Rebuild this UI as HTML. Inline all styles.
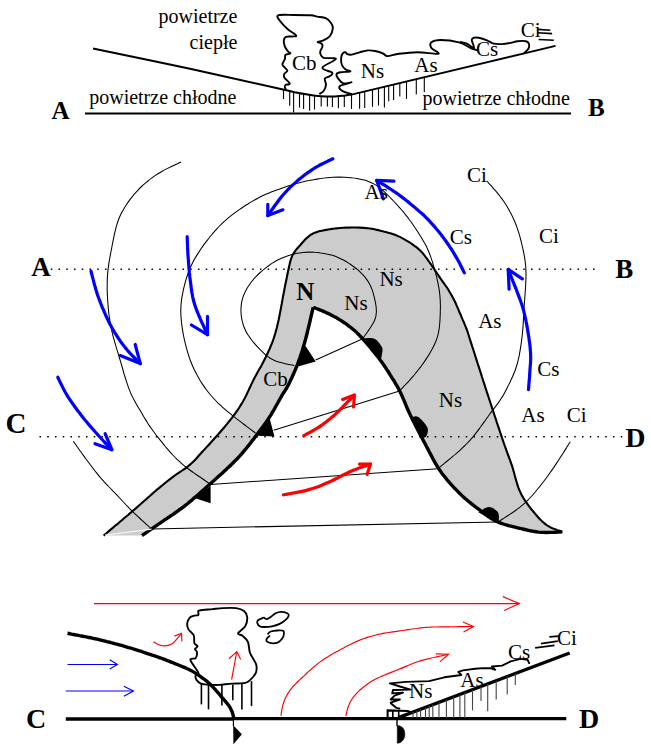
<!DOCTYPE html>
<html><head><meta charset="utf-8"><style>
html,body{margin:0;padding:0;background:#fff;}
svg{display:block;}
text{font-family:"Liberation Serif",serif;fill:#000;}
</style></head><body>
<svg width="651" height="746" viewBox="0 0 651 746">
<line x1="85.0" y1="113.6" x2="571.0" y2="113.6" stroke="#000" stroke-width="2" />
<path d="M93.0,48.4 C109.2,51.8 158.2,61.9 190.0,68.8 C221.8,75.7 266.8,85.9 284.1,89.8 C301.4,93.7 289.9,91.5 294.0,92.3 C298.1,93.1 304.2,94.0 308.7,94.7 C313.2,95.4 316.9,95.9 321.0,96.2 C325.1,96.5 329.2,96.7 333.3,96.6 C337.4,96.5 342.6,95.7 345.6,95.4 C348.6,95.1 350.5,94.7 351.5,94.6 L555.5,45.9" stroke="#000" stroke-width="2" fill="none" />
<line x1="283.5" y1="89.7" x2="283.5" y2="99.0" stroke="#000" stroke-width="1.1" />
<line x1="289.7" y1="91.2" x2="289.7" y2="105.8" stroke="#000" stroke-width="1.1" />
<line x1="293.6" y1="92.2" x2="293.6" y2="112.6" stroke="#000" stroke-width="1.1" />
<line x1="299.5" y1="93.2" x2="299.5" y2="107.6" stroke="#000" stroke-width="1.1" />
<line x1="303.6" y1="93.9" x2="303.6" y2="108.9" stroke="#000" stroke-width="1.1" />
<line x1="309.6" y1="94.8" x2="309.6" y2="110.7" stroke="#000" stroke-width="1.1" />
<line x1="314.5" y1="95.4" x2="314.5" y2="109.5" stroke="#000" stroke-width="1.1" />
<line x1="321.2" y1="96.2" x2="321.2" y2="106.4" stroke="#000" stroke-width="1.1" />
<line x1="327.4" y1="96.4" x2="327.4" y2="106.4" stroke="#000" stroke-width="1.1" />
<line x1="332.4" y1="96.6" x2="332.4" y2="107.0" stroke="#000" stroke-width="1.1" />
<line x1="338.4" y1="96.1" x2="338.4" y2="108.3" stroke="#000" stroke-width="1.1" />
<line x1="344.3" y1="95.5" x2="344.3" y2="107.0" stroke="#000" stroke-width="1.1" />
<line x1="351.5" y1="94.6" x2="351.5" y2="108.9" stroke="#000" stroke-width="1.1" />
<line x1="359.6" y1="92.7" x2="359.6" y2="108.7" stroke="#000" stroke-width="1.1" />
<line x1="364.7" y1="91.4" x2="364.7" y2="108.1" stroke="#000" stroke-width="1.1" />
<line x1="372.5" y1="89.6" x2="372.5" y2="106.9" stroke="#000" stroke-width="1.1" />
<line x1="378.5" y1="88.1" x2="378.5" y2="105.6" stroke="#000" stroke-width="1.1" />
<line x1="384.4" y1="86.7" x2="384.4" y2="107.5" stroke="#000" stroke-width="1.1" />
<line x1="388.7" y1="85.7" x2="388.7" y2="101.3" stroke="#000" stroke-width="1.1" />
<line x1="393.6" y1="84.5" x2="393.6" y2="100.1" stroke="#000" stroke-width="1.1" />
<line x1="399.8" y1="83.0" x2="399.8" y2="96.4" stroke="#000" stroke-width="1.1" />
<line x1="406.5" y1="81.4" x2="406.5" y2="98.9" stroke="#000" stroke-width="1.1" />
<line x1="416.3" y1="79.1" x2="416.3" y2="94.6" stroke="#000" stroke-width="1.1" />
<line x1="424.3" y1="77.2" x2="424.3" y2="92.1" stroke="#000" stroke-width="1.1" />
<text x="158.5" y="23.3" font-size="20" text-anchor="start">powietrze</text>
<text x="189.6" y="49.0" font-size="20" text-anchor="start">ciepłe</text>
<text x="89.2" y="103.8" font-size="20" text-anchor="start">powietrze chłodne</text>
<text x="422.6" y="105.19999999999999" font-size="20" text-anchor="start">powietrze chłodne</text>
<text x="51.5" y="118.8" font-size="25" font-weight="bold" text-anchor="start">A</text>
<text x="588.1" y="115.8" font-size="25" font-weight="bold" text-anchor="start">B</text>
<text x="291.9" y="70.3" font-size="21" text-anchor="start">Cb</text>
<text x="360.8" y="78.3" font-size="21" text-anchor="start">Ns</text>
<text x="414.3" y="71.8" font-size="21" text-anchor="start">As</text>
<text x="475.9" y="55.7" font-size="21" text-anchor="start">Cs</text>
<text x="520.7" y="36.6" font-size="21" text-anchor="start">Ci</text>
<path d="M286.1,89.8 C285.9,89.4 285.0,88.1 284.9,87.3 C284.8,86.5 284.7,85.5 285.5,84.9 C286.3,84.3 290.0,84.8 289.8,83.6 C289.6,82.4 285.2,79.1 284.3,77.5 C283.4,75.9 283.8,74.9 284.3,73.8 C284.8,72.7 287.5,71.9 287.4,70.7 C287.3,69.5 284.5,67.5 283.7,66.4 C282.9,65.3 282.2,65.2 282.4,64.0 C282.6,62.8 284.4,60.5 284.9,59.0 C285.4,57.5 284.6,55.7 285.5,54.8 C286.4,53.9 290.0,54.0 290.4,53.5 C290.8,53.0 289.0,52.6 288.1,51.5 C287.2,50.4 285.6,48.6 284.9,46.7 C284.2,44.8 283.6,41.9 283.8,40.3 C284.0,38.6 284.6,37.4 286.0,36.8 C287.4,36.2 290.7,36.7 292.4,36.5 C294.1,36.3 296.9,36.6 296.2,35.4 C295.5,34.2 290.5,31.6 288.1,29.5 C285.7,27.4 283.4,25.3 281.7,23.0 C280.0,20.7 275.9,16.8 277.9,15.5 C279.9,14.2 288.0,15.0 293.5,15.0 C299.0,15.0 306.8,15.0 310.7,15.3 C314.6,15.6 314.7,16.1 317.2,16.6 C319.7,17.1 323.5,17.1 325.8,18.2 C328.1,19.3 329.9,21.3 331.1,23.0 C332.3,24.7 333.0,26.2 332.8,28.4 C332.6,30.6 331.5,34.0 330.0,36.0 C328.5,38.0 325.7,39.3 323.6,40.3 C321.6,41.3 318.1,41.4 317.7,41.9 C317.3,42.4 320.7,42.7 321.5,43.5 C322.3,44.3 322.7,45.5 322.5,46.7 C322.3,48.0 320.7,49.8 320.4,51.0 C320.1,52.2 320.0,53.0 320.5,54.1 C321.0,55.2 321.0,57.0 323.6,57.8 C326.2,58.6 336.1,57.4 335.9,59.0 C335.7,60.6 323.0,65.4 322.4,67.7 C321.8,70.0 331.0,71.2 332.2,72.6 C333.4,74.0 330.9,75.3 329.7,76.3 C328.5,77.3 325.4,77.3 324.8,78.7 C324.2,80.1 326.2,82.9 326.0,84.9 C325.8,87.0 324.7,89.5 323.6,91.0 C322.5,92.5 320.0,93.6 319.3,94.1" stroke="#000" stroke-width="1.9" fill="none" stroke-linejoin="round"/>
<path d="M351.9,94.2 C350.4,93.7 344.8,92.3 342.7,91.1 C340.6,89.9 339.2,88.2 339.2,87.2 C339.2,86.2 340.6,85.7 342.7,84.9 C344.8,84.1 351.4,82.5 351.5,82.3 C351.6,82.0 345.6,84.0 343.4,83.4 C341.2,82.8 339.5,80.3 338.4,78.8 C337.2,77.3 336.2,75.3 336.5,74.2 C336.8,73.1 338.1,72.8 340.4,72.3 C342.7,71.8 349.4,72.0 350.3,71.5 C351.2,71.0 347.1,70.7 345.7,69.6 C344.3,68.5 342.7,66.9 341.9,65.0 C341.1,63.1 341.0,60.0 341.1,58.1 C341.2,56.2 342.0,54.4 342.7,53.4 C343.4,52.4 344.6,52.2 345.4,52.3 C346.2,52.4 346.2,53.8 347.3,54.2 C348.4,54.6 349.8,54.9 351.9,54.6 C353.9,54.3 356.9,53.0 359.6,52.3 C362.3,51.6 365.2,50.6 368.0,50.4 C370.8,50.2 373.6,50.7 376.1,51.2 C378.6,51.7 381.1,52.7 383.0,53.5 C384.9,54.3 384.9,56.1 387.6,56.1 C390.3,56.1 394.1,54.4 399.1,53.8 C404.1,53.1 411.1,52.2 417.6,52.2 C424.1,52.2 436.0,54.5 438.3,53.8 C440.6,53.1 432.5,49.9 431.4,48.0 C430.2,46.1 429.9,43.6 431.4,42.3 C432.9,41.0 436.0,40.0 440.6,40.0 C445.2,40.0 454.0,41.0 459.0,42.3 C464.0,43.6 467.5,46.7 470.6,48.0 C473.7,49.3 476.4,49.9 477.5,50.3" stroke="#000" stroke-width="1.9" fill="none" stroke-linejoin="round"/>
<path d="M460.0,42.0 C461.1,42.3 464.5,42.7 466.8,43.7 C469.1,44.7 473.2,48.6 474.0,48.0 C474.8,47.4 471.9,42.0 471.8,40.3 C471.7,38.6 472.4,38.2 473.5,37.8 C474.6,37.4 476.4,37.4 478.6,37.8 C480.9,38.2 484.5,39.3 487.0,40.3 C489.5,41.3 491.3,43.1 493.8,43.7 C496.3,44.3 499.4,44.2 502.2,44.1 C505.0,44.0 508.1,43.4 510.7,42.9 C513.2,42.4 515.0,41.5 517.5,41.2 C520.0,40.9 524.0,40.8 525.9,41.2 C527.8,41.6 528.5,42.4 528.9,43.7 C529.3,45.0 529.2,47.2 528.4,48.8 C527.6,50.3 524.9,52.3 524.2,53.0" stroke="#000" stroke-width="1.9" fill="none" />
<line x1="537.7" y1="29.4" x2="550.4" y2="30.2" stroke="#000" stroke-width="1.6" />
<line x1="537.7" y1="32.7" x2="552.1" y2="33.6" stroke="#000" stroke-width="1.6" />
<line x1="538.6" y1="39.5" x2="553.8" y2="40.3" stroke="#000" stroke-width="1.6" />
<path d="M103.6,535.6 C104.1,535.2 105.6,533.9 106.7,533.0 C107.7,532.2 108.7,531.3 109.7,530.4 C110.7,529.6 111.8,528.7 112.8,527.9 C113.8,527.0 114.8,526.1 115.8,525.3 C116.9,524.4 117.9,523.6 118.9,522.7 C119.9,521.8 120.9,521.0 122.0,520.1 C123.0,519.3 124.0,518.4 125.0,517.5 C126.0,516.7 127.1,515.8 128.1,515.0 C129.1,514.1 130.1,513.2 131.1,512.4 C132.1,511.5 133.1,510.6 134.1,509.7 C135.1,508.9 136.2,508.0 137.2,507.1 C138.2,506.2 139.2,505.3 140.2,504.5 C141.2,503.6 142.2,502.7 143.2,501.8 C144.2,500.9 145.2,500.0 146.2,499.2 C147.2,498.3 148.2,497.4 149.2,496.5 C150.2,495.6 151.2,494.8 152.2,493.9 C153.2,493.0 154.2,492.1 155.2,491.3 C156.2,490.4 157.2,489.5 158.3,488.7 C159.3,487.8 160.3,487.0 161.3,486.1 C162.4,485.3 163.4,484.4 164.4,483.6 C165.5,482.7 166.5,481.9 167.5,481.0 C168.6,480.2 169.6,479.4 170.7,478.6 C171.7,477.8 172.8,477.0 173.9,476.2 C175.0,475.4 176.0,474.6 177.1,473.8 C178.2,473.1 179.3,472.4 180.5,471.6 C181.6,470.9 182.7,470.1 183.8,469.4 C184.9,468.6 186.0,467.9 187.0,467.1 C188.1,466.3 189.1,465.4 190.1,464.6 C191.2,463.7 192.1,462.8 193.1,461.9 C194.0,460.9 194.9,460.0 195.9,459.0 C196.8,458.0 197.7,457.0 198.5,456.0 C199.4,455.0 200.3,454.0 201.2,453.0 C202.1,452.0 203.0,451.1 203.9,450.1 C204.8,449.1 205.7,448.1 206.6,447.1 C207.5,446.2 208.4,445.2 209.3,444.2 C210.2,443.2 211.1,442.2 212.0,441.2 C212.9,440.2 213.8,439.3 214.7,438.3 C215.6,437.3 216.5,436.3 217.4,435.3 C218.2,434.3 219.1,433.2 220.0,432.2 C220.9,431.2 221.7,430.2 222.6,429.2 C223.5,428.2 224.3,427.2 225.2,426.2 C226.0,425.1 226.9,424.1 227.7,423.1 C228.6,422.0 229.4,421.0 230.3,420.0 C231.1,418.9 231.9,417.9 232.7,416.8 C233.5,415.7 234.3,414.7 235.1,413.6 C235.9,412.5 236.7,411.4 237.4,410.3 C238.2,409.2 238.9,408.1 239.6,407.0 C240.4,405.9 241.1,404.7 241.7,403.6 C242.4,402.5 243.1,401.3 243.7,400.1 C244.4,399.0 245.0,397.8 245.6,396.6 C246.2,395.4 246.8,394.2 247.3,393.0 C247.9,391.8 248.5,390.6 249.0,389.4 C249.6,388.1 250.1,386.9 250.7,385.7 C251.2,384.5 251.8,383.3 252.4,382.1 C253.0,380.9 253.6,379.7 254.2,378.5 C254.8,377.3 255.4,376.2 256.1,375.0 C256.7,373.8 257.4,372.7 258.0,371.5 C258.7,370.3 259.4,369.2 260.0,368.0 C260.7,366.9 261.3,365.7 262.0,364.5 C262.6,363.4 263.2,362.2 263.8,361.0 C264.4,359.8 265.0,358.6 265.6,357.4 C266.2,356.2 266.8,355.0 267.4,353.8 C267.9,352.6 268.5,351.4 269.0,350.2 C269.6,349.0 270.1,347.7 270.6,346.5 C271.1,345.3 271.6,344.0 272.1,342.8 C272.6,341.6 273.1,340.3 273.5,339.0 C273.9,337.8 274.3,336.5 274.7,335.2 C275.1,334.0 275.5,332.7 275.8,331.4 C276.2,330.1 276.5,328.8 276.9,327.5 C277.2,326.2 277.5,324.9 277.8,323.6 C278.1,322.3 278.4,321.0 278.7,319.7 C278.9,318.4 279.2,317.1 279.5,315.8 C279.7,314.5 280.0,313.2 280.2,311.9 C280.5,310.6 280.7,309.3 281.0,307.9 C281.2,306.6 281.4,305.3 281.7,304.0 C281.9,302.7 282.2,301.4 282.4,300.1 C282.6,298.8 282.9,297.4 283.1,296.1 C283.4,294.8 283.6,293.5 283.9,292.2 C284.1,290.9 284.4,289.6 284.6,288.3 C284.9,287.0 285.1,285.7 285.4,284.3 C285.7,283.0 285.9,281.7 286.2,280.4 C286.5,279.1 286.7,277.8 287.0,276.5 C287.3,275.2 287.5,273.9 287.8,272.6 C288.1,271.3 288.4,270.0 288.6,268.7 C288.9,267.4 289.2,266.1 289.5,264.8 C289.8,263.5 290.1,262.1 290.4,260.9 C290.8,259.6 291.2,258.3 291.7,257.1 C292.2,255.9 292.7,254.7 293.4,253.6 C294.1,252.4 294.9,251.4 295.7,250.3 C296.5,249.3 297.4,248.3 298.3,247.3 C299.2,246.3 300.1,245.3 300.9,244.3 C301.8,243.3 302.7,242.3 303.6,241.3 C304.5,240.3 305.3,239.3 306.3,238.4 C307.2,237.5 308.2,236.6 309.3,235.8 C310.3,235.0 311.4,234.3 312.6,233.7 C313.8,233.1 315.0,232.7 316.3,232.2 C317.5,231.8 318.8,231.4 320.1,231.1 C321.4,230.8 322.7,230.5 324.0,230.2 C325.3,230.0 326.6,229.7 327.9,229.5 C329.2,229.3 330.6,229.1 331.9,228.9 C333.2,228.8 334.5,228.6 335.9,228.4 C337.2,228.3 338.5,228.1 339.8,228.0 C341.2,227.9 342.5,227.8 343.8,227.7 C345.2,227.7 346.5,227.6 347.8,227.6 C349.2,227.5 350.5,227.5 351.8,227.5 C353.2,227.5 354.5,227.5 355.8,227.5 C357.2,227.6 358.5,227.6 359.8,227.6 C361.2,227.7 362.5,227.8 363.8,227.9 C365.2,228.0 366.5,228.1 367.8,228.2 C369.1,228.4 370.4,228.6 371.8,228.8 C373.1,229.0 374.4,229.3 375.7,229.6 C377.0,229.8 378.3,230.1 379.6,230.4 C380.9,230.7 382.2,231.1 383.5,231.4 C384.8,231.7 386.1,232.1 387.3,232.4 C388.6,232.8 389.9,233.1 391.2,233.5 C392.4,233.9 393.7,234.4 395.0,234.8 C396.2,235.3 397.4,235.8 398.7,236.4 C399.9,236.9 401.1,237.5 402.2,238.1 C403.4,238.7 404.6,239.4 405.7,240.1 C406.9,240.7 408.0,241.4 409.1,242.2 C410.3,242.9 411.4,243.6 412.5,244.3 C413.6,245.1 414.7,245.9 415.7,246.7 C416.8,247.5 417.8,248.3 418.8,249.2 C419.8,250.1 420.8,251.0 421.7,252.0 C422.6,252.9 423.4,254.0 424.2,255.0 C425.0,256.1 425.8,257.2 426.6,258.2 C427.4,259.3 428.2,260.4 428.9,261.5 C429.7,262.6 430.5,263.6 431.3,264.7 C432.0,265.8 432.8,266.9 433.5,268.0 C434.3,269.2 435.0,270.3 435.7,271.4 C436.5,272.5 437.2,273.6 437.9,274.7 C438.7,275.8 439.4,277.0 440.2,278.0 C440.9,279.1 441.7,280.2 442.5,281.3 C443.3,282.4 444.1,283.4 444.8,284.5 C445.6,285.6 446.4,286.7 447.1,287.8 C447.8,288.9 448.6,290.1 449.2,291.2 C449.9,292.3 450.6,293.5 451.3,294.7 C451.9,295.8 452.6,297.0 453.2,298.2 C453.8,299.3 454.4,300.5 455.0,301.7 C455.6,302.9 456.1,304.2 456.6,305.4 C457.2,306.6 457.7,307.8 458.2,309.1 C458.7,310.3 459.2,311.5 459.7,312.8 C460.3,314.0 460.8,315.2 461.3,316.4 C461.9,317.6 462.4,318.9 462.9,320.1 C463.5,321.3 464.0,322.5 464.5,323.8 C465.0,325.0 465.5,326.2 466.0,327.5 C466.5,328.7 467.0,330.0 467.4,331.2 C467.8,332.5 468.2,333.8 468.6,335.0 C469.0,336.3 469.4,337.6 469.8,338.9 C470.2,340.1 470.6,341.4 471.0,342.7 C471.4,343.9 471.8,345.2 472.2,346.5 C472.6,347.8 473.1,349.0 473.5,350.3 C473.9,351.6 474.3,352.8 474.7,354.1 C475.1,355.4 475.5,356.7 475.9,357.9 C476.3,359.2 476.7,360.5 477.1,361.7 C477.5,363.0 477.9,364.3 478.3,365.5 C478.8,366.8 479.2,368.1 479.6,369.4 C480.0,370.6 480.4,371.9 480.8,373.2 C481.2,374.4 481.6,375.7 482.0,377.0 C482.4,378.2 482.8,379.5 483.2,380.8 C483.7,382.1 484.1,383.3 484.5,384.6 C484.9,385.9 485.3,387.1 485.7,388.4 C486.1,389.7 486.5,390.9 486.9,392.2 C487.3,393.5 487.8,394.7 488.2,396.0 C488.6,397.3 489.0,398.6 489.4,399.8 C489.8,401.1 490.2,402.4 490.7,403.6 C491.1,404.9 491.5,406.2 491.9,407.4 C492.3,408.7 492.7,410.0 493.2,411.2 C493.6,412.5 494.0,413.8 494.4,415.0 C494.8,416.3 495.3,417.6 495.7,418.8 C496.1,420.1 496.5,421.4 496.9,422.6 C497.4,423.9 497.8,425.2 498.2,426.4 C498.6,427.7 499.0,429.0 499.5,430.2 C499.9,431.5 500.3,432.8 500.7,434.0 C501.2,435.3 501.6,436.5 502.0,437.8 C502.5,439.1 502.9,440.3 503.3,441.6 C503.7,442.9 504.2,444.1 504.6,445.4 C505.1,446.6 505.5,447.9 506.0,449.2 C506.4,450.4 506.9,451.7 507.3,452.9 C507.8,454.2 508.3,455.4 508.7,456.7 C509.2,457.9 509.6,459.2 510.1,460.4 C510.6,461.7 511.0,462.9 511.4,464.2 C511.9,465.5 512.3,466.7 512.7,468.0 C513.1,469.3 513.4,470.6 513.8,471.8 C514.2,473.1 514.5,474.4 514.8,475.7 C515.2,477.0 515.5,478.3 515.9,479.6 C516.2,480.9 516.6,482.1 517.0,483.4 C517.4,484.7 517.8,486.0 518.2,487.2 C518.7,488.5 519.1,489.7 519.7,490.9 C520.2,492.1 520.8,493.3 521.4,494.5 C522.0,495.7 522.7,496.9 523.4,498.0 C524.1,499.1 524.8,500.2 525.5,501.4 C526.3,502.5 527.1,503.5 527.9,504.6 C528.6,505.7 529.5,506.8 530.3,507.8 C531.1,508.9 531.9,509.9 532.8,510.9 C533.6,512.0 534.5,513.0 535.3,514.0 C536.2,515.0 537.0,516.1 537.9,517.0 C538.8,518.0 539.8,519.0 540.7,519.9 C541.6,520.9 542.6,521.8 543.6,522.6 C544.7,523.5 545.7,524.3 546.8,525.1 C547.9,525.8 549.0,526.5 550.2,527.1 C551.3,527.8 552.6,528.3 553.8,528.8 C555.0,529.3 556.3,529.8 557.5,530.2 C558.8,530.6 560.6,531.1 561.3,531.4 C562.1,531.7 562.1,531.7 562.3,531.7 L562.3,531.9 C561.6,531.9 559.6,532.0 558.3,532.1 C557.0,532.1 555.6,532.2 554.3,532.3 C553.0,532.3 551.6,532.4 550.3,532.4 C549.0,532.5 547.6,532.5 546.3,532.5 C544.9,532.5 543.6,532.5 542.3,532.4 C540.9,532.3 539.6,532.2 538.3,532.1 C537.0,531.9 535.6,531.7 534.3,531.5 C533.0,531.3 531.7,531.0 530.4,530.8 C529.1,530.5 527.8,530.2 526.5,529.9 C525.2,529.6 523.9,529.3 522.6,529.0 C521.3,528.6 520.0,528.4 518.7,528.1 C517.4,527.8 516.1,527.5 514.8,527.2 C513.5,526.9 512.2,526.5 510.9,526.2 C509.6,525.9 508.3,525.6 507.0,525.2 C505.7,524.8 504.4,524.4 503.2,524.0 C501.9,523.6 500.7,523.1 499.4,522.6 C498.2,522.1 497.0,521.6 495.8,521.0 C494.6,520.4 493.4,519.7 492.3,519.1 C491.1,518.4 490.0,517.6 488.9,516.9 C487.8,516.1 486.7,515.4 485.6,514.6 C484.6,513.8 483.5,513.0 482.5,512.1 C481.4,511.3 480.3,510.5 479.3,509.7 C478.2,508.9 477.1,508.1 476.1,507.3 C475.0,506.5 473.9,505.7 472.9,504.9 C471.8,504.0 470.8,503.2 469.8,502.4 C468.7,501.5 467.7,500.7 466.7,499.8 C465.6,498.9 464.6,498.1 463.7,497.2 C462.7,496.3 461.7,495.4 460.7,494.4 C459.8,493.5 458.8,492.6 457.9,491.6 C456.9,490.7 456.0,489.7 455.1,488.7 C454.2,487.8 453.3,486.8 452.4,485.8 C451.5,484.8 450.6,483.8 449.7,482.8 C448.8,481.8 448.0,480.8 447.1,479.8 C446.2,478.7 445.4,477.7 444.6,476.6 C443.7,475.6 442.9,474.5 442.1,473.5 C441.3,472.4 440.6,471.3 439.8,470.2 C439.0,469.1 438.3,468.0 437.6,466.9 C436.9,465.7 436.2,464.6 435.5,463.4 C434.8,462.3 434.2,461.1 433.6,460.0 C432.9,458.8 432.3,457.6 431.7,456.4 C431.1,455.2 430.4,454.0 429.8,452.9 C429.2,451.7 428.6,450.5 428.0,449.3 C427.4,448.1 426.7,446.9 426.1,445.8 C425.5,444.6 424.9,443.4 424.2,442.2 C423.6,441.0 423.0,439.9 422.4,438.7 C421.7,437.5 421.1,436.3 420.5,435.1 C419.9,433.9 419.2,432.8 418.6,431.6 C418.0,430.4 417.4,429.2 416.8,428.0 C416.2,426.8 415.6,425.6 415.0,424.5 C414.4,423.3 413.8,422.1 413.2,420.9 C412.6,419.7 412.0,418.5 411.4,417.3 C410.8,416.1 410.2,414.9 409.7,413.7 C409.1,412.5 408.6,411.2 408.0,410.0 C407.5,408.8 406.9,407.6 406.4,406.3 C405.9,405.1 405.4,403.9 404.9,402.6 C404.4,401.4 403.9,400.2 403.3,398.9 C402.8,397.7 402.3,396.5 401.7,395.3 C401.2,394.0 400.6,392.8 400.0,391.6 C399.4,390.4 398.8,389.3 398.2,388.1 C397.5,386.9 396.9,385.7 396.2,384.6 C395.5,383.4 394.8,382.3 394.2,381.2 C393.5,380.0 392.7,378.9 392.0,377.8 C391.3,376.6 390.6,375.5 389.9,374.4 C389.2,373.2 388.5,372.1 387.8,371.0 C387.0,369.9 386.3,368.7 385.6,367.6 C384.8,366.5 384.1,365.4 383.3,364.3 C382.6,363.2 381.8,362.1 381.0,361.0 C380.2,360.0 379.4,358.9 378.6,357.9 C377.7,356.8 376.9,355.7 376.1,354.7 C375.3,353.6 374.4,352.6 373.6,351.6 C372.8,350.5 371.9,349.5 371.1,348.5 C370.2,347.4 369.4,346.4 368.5,345.4 C367.6,344.3 366.8,343.3 365.9,342.3 C365.0,341.3 364.1,340.3 363.2,339.3 C362.3,338.3 361.4,337.4 360.5,336.4 C359.6,335.4 358.6,334.5 357.7,333.6 C356.7,332.6 355.8,331.7 354.8,330.8 C353.8,329.9 352.7,329.1 351.7,328.2 C350.7,327.4 349.6,326.6 348.6,325.8 C347.5,324.9 346.4,324.2 345.3,323.4 C344.2,322.6 343.1,321.9 342.0,321.2 C340.9,320.5 339.7,319.8 338.6,319.1 C337.4,318.4 336.3,317.7 335.1,317.1 C333.9,316.4 332.8,315.8 331.6,315.2 C330.4,314.6 329.2,314.0 328.0,313.4 C326.8,312.9 325.5,312.3 324.3,311.8 C323.1,311.3 321.9,310.7 320.6,310.2 C319.4,309.7 318.1,309.2 316.9,308.7 C315.7,308.2 313.8,307.5 313.2,307.2 L313.2,307.2 C313.1,307.9 312.6,309.8 312.3,311.1 C312.0,312.4 311.7,313.7 311.4,315.0 C311.1,316.3 310.8,317.6 310.5,318.9 C310.2,320.2 309.9,321.5 309.6,322.8 C309.3,324.1 309.0,325.4 308.7,326.7 C308.4,328.0 308.0,329.3 307.7,330.6 C307.4,331.9 307.1,333.2 306.8,334.5 C306.5,335.8 306.1,337.1 305.8,338.4 C305.5,339.7 305.1,341.0 304.7,342.3 C304.4,343.5 304.0,344.8 303.6,346.1 C303.2,347.4 302.9,348.7 302.5,349.9 C302.1,351.2 301.7,352.5 301.2,353.8 C300.8,355.0 300.4,356.3 300.0,357.6 C299.5,358.8 299.1,360.1 298.6,361.3 C298.2,362.6 297.7,363.8 297.2,365.1 C296.7,366.3 296.2,367.6 295.7,368.8 C295.2,370.0 294.7,371.3 294.1,372.5 C293.6,373.7 293.1,374.9 292.5,376.1 C292.0,377.4 291.4,378.6 290.8,379.8 C290.2,381.0 289.7,382.2 289.1,383.4 C288.5,384.6 287.9,385.8 287.2,386.9 C286.6,388.1 285.9,389.2 285.2,390.4 C284.5,391.5 283.7,392.6 283.0,393.7 C282.3,394.9 281.7,396.0 281.0,397.2 C280.3,398.3 279.7,399.5 279.0,400.7 C278.4,401.8 277.7,403.0 277.1,404.2 C276.4,405.3 275.8,406.5 275.1,407.7 C274.5,408.8 273.8,410.0 273.1,411.2 C272.4,412.3 271.8,413.4 271.1,414.6 C270.4,415.7 269.6,416.8 268.9,418.0 C268.2,419.1 267.4,420.2 266.7,421.3 C265.9,422.4 265.2,423.5 264.4,424.6 C263.6,425.7 262.8,426.7 262.0,427.8 C261.2,428.9 260.4,430.0 259.6,431.0 C258.8,432.1 258.0,433.2 257.2,434.2 C256.4,435.3 255.6,436.4 254.8,437.4 C254.0,438.5 253.2,439.5 252.3,440.6 C251.5,441.7 250.7,442.7 249.9,443.8 C249.1,444.8 248.2,445.9 247.4,446.9 C246.6,447.9 245.7,449.0 244.9,450.0 C244.0,451.0 243.1,452.1 242.3,453.1 C241.4,454.1 240.5,455.1 239.6,456.1 C238.7,457.0 237.8,458.0 236.9,459.0 C236.0,459.9 235.0,460.9 234.1,461.8 C233.1,462.8 232.2,463.7 231.2,464.7 C230.3,465.6 229.3,466.5 228.3,467.4 C227.4,468.3 226.4,469.3 225.4,470.2 C224.4,471.1 223.5,472.0 222.5,472.9 C221.5,473.8 220.5,474.7 219.5,475.6 C218.5,476.5 217.5,477.4 216.5,478.3 C215.5,479.2 214.5,480.1 213.5,481.0 C212.5,481.8 211.5,482.7 210.6,483.6 C209.6,484.5 208.6,485.4 207.6,486.3 C206.6,487.2 205.6,488.1 204.6,489.0 C203.6,489.9 202.6,490.7 201.6,491.6 C200.6,492.5 199.6,493.4 198.6,494.3 C197.6,495.1 196.5,496.0 195.5,496.9 C194.5,497.7 193.5,498.6 192.5,499.5 C191.5,500.4 190.5,501.2 189.4,502.1 C188.4,502.9 187.4,503.8 186.3,504.6 C185.3,505.4 184.2,506.3 183.2,507.1 C182.1,507.9 181.0,508.7 179.9,509.4 C178.9,510.2 177.8,511.0 176.7,511.8 C175.6,512.5 174.5,513.3 173.4,514.1 C172.3,514.8 171.2,515.6 170.1,516.3 C169.0,517.1 167.9,517.8 166.8,518.6 C165.7,519.3 164.6,520.1 163.4,520.8 C162.3,521.6 161.2,522.3 160.1,523.1 C159.0,523.8 157.9,524.6 156.8,525.3 C155.7,526.1 154.6,526.8 153.5,527.6 C152.4,528.3 151.3,529.1 150.2,529.8 C149.1,530.6 148.0,531.3 146.9,532.1 C145.8,532.9 144.4,533.9 143.6,534.4 C142.8,535.0 142.3,535.4 142.0,535.6 Z" stroke="#000" stroke-width="0" fill="#cccccc" stroke="none"/>
<path d="M362.7,338.7 C363.3,337.9 365.0,335.5 366.2,333.8 C367.3,332.2 368.5,330.6 369.6,328.9 C370.7,327.2 371.9,325.6 372.8,323.8 C373.8,322.1 374.7,320.3 375.3,318.5 C375.9,316.6 376.2,314.7 376.3,312.7 C376.5,310.8 376.3,308.8 376.1,306.8 C375.9,304.9 375.5,302.9 375.1,300.9 C374.7,299.0 374.3,297.0 373.7,295.1 C373.2,293.1 372.7,291.2 372.0,289.4 C371.3,287.5 370.5,285.7 369.6,283.9 C368.6,282.2 367.5,280.5 366.3,278.9 C365.2,277.3 363.9,275.8 362.5,274.4 C361.1,272.9 359.7,271.5 358.2,270.2 C356.7,268.9 355.1,267.7 353.5,266.5 C351.9,265.3 350.2,264.2 348.6,263.1 C346.9,262.0 345.2,261.0 343.4,260.0 C341.7,259.1 339.9,258.2 338.0,257.4 C336.2,256.6 334.3,255.9 332.4,255.3 C330.5,254.7 328.6,254.3 326.6,253.9 C324.7,253.4 322.7,253.1 320.7,252.9 C318.7,252.6 316.7,252.4 314.8,252.3 C312.8,252.1 310.8,252.1 308.8,252.1 C306.8,252.1 304.8,252.2 302.8,252.4 C300.8,252.6 298.8,252.9 296.9,253.3 C294.9,253.7 293.0,254.2 291.1,254.8 C289.2,255.4 287.3,256.1 285.4,256.8 C283.6,257.5 281.7,258.3 279.9,259.1 C278.1,259.9 276.3,260.8 274.6,261.8 C272.9,262.7 271.2,263.9 269.6,265.0 C267.9,266.2 266.4,267.4 264.8,268.6 C263.2,269.9 261.7,271.2 260.2,272.5 C258.7,273.8 257.3,275.2 255.9,276.7 C254.5,278.1 253.2,279.6 252.0,281.2 C250.7,282.7 249.6,284.4 248.5,286.0 C247.4,287.7 246.3,289.4 245.5,291.2 C244.6,293.0 243.8,294.8 243.1,296.7 C242.5,298.5 242.0,300.5 241.6,302.4 C241.3,304.4 241.1,306.4 241.0,308.3 C240.9,310.3 241.0,312.3 241.1,314.3 C241.3,316.3 241.6,318.3 242.0,320.2 C242.5,322.2 243.0,324.1 243.6,326.0 C244.3,327.8 245.1,329.7 246.0,331.4 C246.9,333.2 248.0,334.9 249.1,336.5 C250.2,338.2 251.5,339.7 252.7,341.3 C254.0,342.9 255.3,344.4 256.6,345.8 C258.0,347.3 259.3,348.8 260.7,350.2 C262.1,351.6 263.6,353.1 265.1,354.4 C266.6,355.7 268.1,356.9 269.8,358.0 C271.5,359.0 273.2,359.9 275.1,360.7 C276.9,361.5 278.8,362.1 280.7,362.6 C282.6,363.2 284.6,363.6 286.5,364.0 C288.5,364.4 291.1,364.9 292.4,365.1 C293.7,365.4 294.1,365.4 294.4,365.5" stroke="#000" stroke-width="1.05" fill="none" />
<line x1="315.7" y1="360.0" x2="362.7" y2="338.7" stroke="#000" stroke-width="1.05" />
<path d="M255.8,433.3 C255.0,432.7 252.6,430.9 251.0,429.7 C249.4,428.5 247.8,427.3 246.2,426.1 C244.6,424.9 243.0,423.6 241.4,422.4 C239.8,421.2 238.3,420.0 236.7,418.8 C235.1,417.5 233.5,416.3 231.9,415.1 C230.4,413.8 228.8,412.6 227.3,411.3 C225.7,410.0 224.2,408.7 222.7,407.4 C221.2,406.1 219.8,404.7 218.3,403.3 C216.9,401.9 215.5,400.5 214.2,399.0 C212.8,397.5 211.5,396.0 210.2,394.5 C208.9,393.0 207.6,391.4 206.4,389.8 C205.2,388.2 204.1,386.6 203.0,384.9 C201.9,383.3 200.8,381.6 199.8,379.9 C198.8,378.1 197.8,376.4 196.8,374.6 C195.9,372.9 195.0,371.1 194.1,369.3 C193.3,367.5 192.4,365.7 191.7,363.8 C190.9,362.0 190.2,360.1 189.5,358.2 C188.9,356.3 188.3,354.4 187.7,352.5 C187.1,350.6 186.6,348.7 186.1,346.7 C185.6,344.8 185.1,342.9 184.7,340.9 C184.2,339.0 183.8,337.0 183.4,335.0 C183.0,333.1 182.7,331.1 182.4,329.1 C182.1,327.1 181.8,325.2 181.6,323.2 C181.4,321.2 181.2,319.2 181.0,317.2 C180.9,315.2 180.8,313.2 180.8,311.2 C180.8,309.2 180.9,307.2 181.0,305.2 C181.1,303.2 181.4,301.3 181.6,299.3 C181.9,297.3 182.3,295.3 182.7,293.4 C183.0,291.4 183.5,289.5 183.9,287.5 C184.4,285.6 184.9,283.6 185.4,281.7 C186.0,279.8 186.5,277.9 187.2,276.0 C187.8,274.1 188.4,272.2 189.2,270.3 C189.9,268.5 190.7,266.6 191.6,264.8 C192.4,263.0 193.4,261.3 194.3,259.5 C195.3,257.8 196.3,256.1 197.4,254.4 C198.5,252.7 199.6,251.0 200.7,249.3 C201.8,247.7 203.0,246.0 204.1,244.4 C205.3,242.8 206.5,241.2 207.8,239.6 C209.0,238.1 210.2,236.5 211.5,235.0 C212.8,233.4 214.1,231.9 215.4,230.4 C216.8,228.9 218.1,227.4 219.5,226.0 C220.9,224.6 222.3,223.2 223.8,221.8 C225.3,220.5 226.8,219.2 228.3,217.9 C229.9,216.6 231.4,215.4 233.0,214.2 C234.6,212.9 236.2,211.8 237.9,210.6 C239.5,209.5 241.1,208.3 242.8,207.2 C244.5,206.1 246.2,205.0 247.9,204.0 C249.6,202.9 251.3,201.9 253.0,200.9 C254.7,199.9 256.5,198.9 258.3,198.0 C260.0,197.1 261.8,196.2 263.6,195.3 C265.4,194.5 267.3,193.7 269.1,192.9 C271.0,192.1 272.8,191.4 274.7,190.7 C276.6,190.0 278.5,189.4 280.4,188.7 C282.3,188.1 284.2,187.4 286.0,186.8 C287.9,186.2 289.8,185.5 291.7,184.9 C293.6,184.3 295.6,183.7 297.5,183.2 C299.4,182.6 301.3,182.1 303.3,181.7 C305.2,181.2 307.2,180.8 309.2,180.5 C311.1,180.1 313.1,179.7 315.1,179.4 C317.0,179.1 319.0,178.7 321.0,178.5 C323.0,178.2 325.0,178.0 327.0,177.8 C328.9,177.6 330.9,177.4 332.9,177.3 C334.9,177.2 336.9,177.1 338.9,177.1 C340.9,177.1 342.9,177.1 344.9,177.2 C346.9,177.3 348.9,177.5 350.9,177.7 C352.9,177.9 354.9,178.1 356.8,178.4 C358.8,178.8 360.8,179.2 362.7,179.7 C364.6,180.2 366.6,180.7 368.4,181.4 C370.3,182.1 372.1,182.9 373.8,183.9 C375.5,184.8 377.2,185.9 378.8,187.1 C380.4,188.3 381.9,189.6 383.4,190.9 C384.9,192.2 386.3,193.6 387.7,195.0 C389.1,196.5 390.5,197.9 391.9,199.3 C393.3,200.8 394.7,202.2 396.0,203.7 C397.4,205.2 398.7,206.7 400.0,208.2 C401.4,209.7 402.7,211.2 404.0,212.7 C405.2,214.3 406.5,215.8 407.7,217.4 C408.9,219.0 410.1,220.6 411.3,222.2 C412.4,223.9 413.6,225.5 414.7,227.2 C415.8,228.8 416.9,230.5 418.0,232.2 C419.0,233.9 420.1,235.6 421.2,237.3 C422.2,239.0 423.3,240.7 424.2,242.4 C425.2,244.2 426.2,245.9 427.0,247.7 C427.9,249.5 428.6,251.4 429.4,253.2 C430.1,255.1 430.8,257.0 431.4,258.9 C432.1,260.8 432.6,262.7 433.2,264.6 C433.8,266.5 434.3,268.4 434.9,270.4 C435.4,272.3 435.9,274.2 436.4,276.2 C436.9,278.1 437.3,280.1 437.7,282.0 C438.2,284.0 438.5,285.9 438.9,287.9 C439.2,289.9 439.5,291.9 439.7,293.9 C439.9,295.8 440.1,297.8 440.2,299.8 C440.3,301.8 440.3,303.8 440.4,305.8 C440.4,307.8 440.4,309.8 440.3,311.8 C440.3,313.8 440.2,315.8 440.1,317.8 C440.0,319.8 439.9,321.8 439.7,323.8 C439.5,325.8 439.3,327.8 439.0,329.7 C438.7,331.7 438.3,333.7 437.8,335.6 C437.2,337.5 436.6,339.4 435.9,341.2 C435.1,343.1 434.3,344.9 433.4,346.7 C432.5,348.5 431.5,350.2 430.5,351.9 C429.5,353.7 428.5,355.4 427.4,357.1 C426.3,358.7 425.2,360.4 424.1,362.1 C422.9,363.7 421.8,365.3 420.6,366.9 C419.4,368.5 418.1,370.1 416.9,371.7 C415.6,373.2 414.4,374.8 413.0,376.3 C411.7,377.8 410.4,379.3 409.1,380.8 C407.7,382.2 406.4,383.7 405.0,385.2 C403.6,386.6 401.8,388.6 400.9,389.5 C400.0,390.5 399.7,390.8 399.5,391.0" stroke="#000" stroke-width="1.05" fill="none" />
<line x1="273.7" y1="430.3" x2="399.5" y2="391.0" stroke="#000" stroke-width="1.05" />
<path d="M210.6,484.5 C209.8,483.9 207.4,482.1 205.7,481.0 C204.1,479.8 202.5,478.6 200.8,477.5 C199.2,476.4 197.5,475.3 195.8,474.2 C194.2,473.1 192.5,472.0 190.8,470.8 C189.2,469.7 187.6,468.5 186.0,467.2 C184.5,466.0 182.9,464.7 181.4,463.4 C179.9,462.1 178.5,460.7 177.0,459.3 C175.6,457.9 174.2,456.5 172.8,455.0 C171.4,453.6 170.1,452.1 168.8,450.6 C167.5,449.1 166.2,447.5 164.9,446.0 C163.6,444.4 162.4,442.8 161.2,441.3 C159.9,439.7 158.6,438.1 157.4,436.6 C156.2,435.0 154.9,433.4 153.7,431.8 C152.5,430.2 151.4,428.6 150.2,426.9 C149.1,425.3 148.0,423.6 147.0,421.9 C145.9,420.2 144.9,418.5 143.8,416.8 C142.8,415.1 141.8,413.3 140.8,411.6 C139.8,409.9 138.7,408.1 137.7,406.4 C136.7,404.7 135.7,402.9 134.8,401.2 C133.8,399.4 132.8,397.7 132.0,395.9 C131.1,394.1 130.3,392.2 129.6,390.4 C128.8,388.5 128.2,386.6 127.5,384.7 C126.9,382.9 126.3,380.9 125.7,379.0 C125.1,377.1 124.5,375.2 123.9,373.3 C123.4,371.3 122.8,369.4 122.3,367.5 C121.7,365.6 121.1,363.6 120.6,361.7 C120.0,359.8 119.4,357.9 118.9,356.0 C118.3,354.0 117.7,352.1 117.1,350.2 C116.5,348.3 116.0,346.4 115.4,344.4 C114.8,342.5 114.3,340.6 113.8,338.7 C113.2,336.7 112.7,334.8 112.3,332.8 C111.8,330.9 111.4,328.9 111.0,327.0 C110.6,325.0 110.2,323.0 109.9,321.1 C109.6,319.1 109.3,317.1 109.0,315.1 C108.8,313.1 108.6,311.1 108.4,309.1 C108.2,307.1 108.0,305.2 107.9,303.2 C107.7,301.2 107.6,299.2 107.5,297.2 C107.4,295.2 107.3,293.2 107.2,291.1 C107.2,289.1 107.1,287.1 107.2,285.1 C107.2,283.1 107.2,281.1 107.3,279.1 C107.4,277.1 107.5,275.1 107.7,273.1 C107.9,271.1 108.1,269.2 108.4,267.2 C108.6,265.2 108.9,263.2 109.2,261.2 C109.6,259.2 109.9,257.3 110.3,255.3 C110.6,253.3 111.0,251.4 111.4,249.4 C111.8,247.4 112.2,245.5 112.5,243.5 C112.9,241.5 113.3,239.6 113.7,237.6 C114.2,235.6 114.6,233.7 115.0,231.7 C115.5,229.8 115.9,227.8 116.5,225.9 C117.0,224.0 117.6,222.1 118.3,220.2 C119.0,218.3 119.8,216.5 120.6,214.7 C121.5,212.9 122.5,211.1 123.5,209.4 C124.5,207.7 125.5,206.0 126.7,204.3 C127.8,202.7 128.9,201.0 130.1,199.4 C131.3,197.8 132.6,196.3 133.8,194.7 C135.1,193.2 136.5,191.7 137.8,190.3 C139.2,188.8 140.6,187.4 142.1,186.0 C143.6,184.7 145.1,183.3 146.6,182.1 C148.2,180.8 149.7,179.5 151.3,178.4 C152.9,177.2 154.6,176.0 156.2,174.9 C157.9,173.8 159.6,172.8 161.3,171.7 C163.1,170.7 164.8,169.8 166.6,168.9 C168.4,168.0 170.2,167.1 172.0,166.2 C173.8,165.4 175.9,164.4 177.5,163.7 C179.0,163.0 180.5,162.3 181.1,162.0" stroke="#000" stroke-width="1.05" fill="none" />
<line x1="210.6" y1="484.5" x2="438.0" y2="468.7" stroke="#000" stroke-width="1.05" />
<path d="M438.0,468.7 C438.8,468.1 441.1,466.1 442.6,464.9 C444.2,463.6 445.7,462.3 447.3,461.0 C448.8,459.8 450.4,458.5 451.9,457.2 C453.4,455.9 454.9,454.6 456.5,453.3 C458.0,452.0 459.5,450.7 460.9,449.3 C462.4,447.9 463.9,446.6 465.3,445.2 C466.7,443.7 468.1,442.3 469.5,440.8 C470.8,439.4 472.1,437.8 473.4,436.3 C474.7,434.8 475.9,433.2 477.1,431.6 C478.4,430.0 479.5,428.4 480.7,426.8 C481.9,425.2 483.1,423.5 484.2,421.9 C485.4,420.3 486.5,418.6 487.7,417.0 C488.9,415.4 490.0,413.7 491.2,412.1 C492.4,410.5 493.6,408.9 494.9,407.3 C496.1,405.8 497.3,404.2 498.5,402.6 C499.7,401.0 500.8,399.3 501.8,397.6 C502.9,395.9 503.9,394.2 504.8,392.4 C505.8,390.7 506.7,388.9 507.6,387.1 C508.5,385.3 509.3,383.5 510.2,381.7 C511.0,379.9 511.9,378.0 512.7,376.2 C513.5,374.4 514.3,372.5 515.0,370.7 C515.7,368.8 516.3,366.9 516.9,365.0 C517.5,363.1 518.0,361.1 518.4,359.2 C518.9,357.2 519.3,355.3 519.6,353.3 C520.0,351.3 520.3,349.3 520.6,347.4 C520.9,345.4 521.2,343.4 521.5,341.4 C521.7,339.4 522.0,337.4 522.2,335.5 C522.4,333.5 522.6,331.5 522.8,329.5 C522.9,327.5 523.1,325.5 523.2,323.5 C523.3,321.5 523.4,319.5 523.5,317.5 C523.7,315.5 523.7,313.5 523.9,311.5 C524.0,309.5 524.1,307.5 524.2,305.5 C524.4,303.5 524.5,301.5 524.7,299.5 C524.8,297.5 525.0,295.5 525.1,293.5 C525.2,291.5 525.4,289.5 525.5,287.5 C525.6,285.5 525.8,283.5 525.8,281.5 C525.9,279.5 526.0,277.5 526.0,275.5 C526.0,273.5 526.0,271.5 525.9,269.5 C525.8,267.5 525.7,265.5 525.4,263.5 C525.2,261.5 524.9,259.5 524.6,257.6 C524.2,255.6 523.9,253.6 523.5,251.7 C523.1,249.7 522.6,247.7 522.2,245.8 C521.7,243.8 521.3,241.9 520.8,240.0 C520.3,238.0 519.7,236.1 519.2,234.2 C518.6,232.2 518.0,230.3 517.3,228.4 C516.7,226.6 516.0,224.7 515.2,222.8 C514.5,221.0 513.7,219.1 512.8,217.3 C512.0,215.5 511.1,213.7 510.1,212.0 C509.2,210.2 508.2,208.4 507.2,206.7 C506.2,205.0 505.1,203.3 504.0,201.7 C502.8,200.0 501.7,198.4 500.4,196.8 C499.2,195.2 498.0,193.7 496.7,192.1 C495.4,190.6 494.0,189.1 492.7,187.6 C491.4,186.1 489.7,184.3 488.7,183.1 C487.7,182.0 487.0,181.3 486.7,180.9" stroke="#000" stroke-width="1.05" fill="none" />
<path d="M151.5,528.9 C150.8,528.2 148.5,526.2 147.0,524.9 C145.5,523.5 144.0,522.2 142.5,520.8 C141.0,519.4 139.6,518.1 138.1,516.7 C136.6,515.4 135.1,514.0 133.7,512.6 C132.2,511.2 130.8,509.8 129.4,508.4 C128.0,506.9 126.6,505.5 125.2,504.0 C123.8,502.5 122.5,501.0 121.1,499.5 C119.8,498.1 118.4,496.6 117.0,495.1 C115.6,493.6 114.2,492.2 112.8,490.8 C111.4,489.3 110.0,487.9 108.6,486.5 C107.2,485.0 105.8,483.6 104.4,482.1 C103.1,480.6 101.7,479.1 100.4,477.6 C99.1,476.1 97.8,474.5 96.6,472.9 C95.3,471.4 94.1,469.8 92.9,468.2 C91.6,466.6 90.4,464.9 89.2,463.3 C88.0,461.7 86.8,460.1 85.6,458.5 C84.4,456.8 83.3,455.2 82.1,453.6 C80.9,451.9 79.7,450.3 78.6,448.7 C77.4,447.0 75.9,445.0 75.1,443.8 C74.2,442.5 73.6,441.7 73.3,441.3" stroke="#000" stroke-width="1.05" fill="none" />
<line x1="151.5" y1="528.9" x2="497.9" y2="522.1" stroke="#000" stroke-width="1.05" />
<path d="M497.9,522.1 C498.7,521.6 501.3,519.9 503.0,518.8 C504.7,517.7 506.4,516.7 508.0,515.5 C509.7,514.4 511.4,513.3 513.1,512.2 C514.7,511.0 516.4,509.9 518.0,508.7 C519.6,507.5 521.2,506.2 522.7,504.9 C524.2,503.6 525.7,502.2 527.1,500.8 C528.6,499.4 530.0,498.0 531.3,496.5 C532.7,495.0 534.0,493.5 535.3,492.0 C536.6,490.4 537.9,488.9 539.1,487.3 C540.4,485.7 541.6,484.1 542.8,482.5 C544.1,480.9 545.3,479.3 546.5,477.7 C547.7,476.1 548.9,474.5 550.0,472.8 C551.2,471.2 552.4,469.5 553.5,467.9 C554.6,466.2 555.7,464.5 556.8,462.9 C558.0,461.2 559.0,459.5 560.1,457.8 C561.2,456.1 562.3,454.4 563.4,452.7 C564.4,451.0 565.5,449.3 566.6,447.6 C567.6,445.9 569.1,443.4 569.8,442.5 C570.4,441.5 570.2,441.7 570.3,441.6" stroke="#000" stroke-width="1.05" fill="none" />
<path d="M103.6,535.6 C104.1,535.2 105.6,533.9 106.7,533.0 C107.7,532.2 108.7,531.3 109.7,530.4 C110.7,529.6 111.8,528.7 112.8,527.9 C113.8,527.0 114.8,526.1 115.8,525.3 C116.9,524.4 117.9,523.6 118.9,522.7 C119.9,521.8 120.9,521.0 122.0,520.1 C123.0,519.3 124.0,518.4 125.0,517.5 C126.0,516.7 127.1,515.8 128.1,515.0 C129.1,514.1 130.1,513.2 131.1,512.4 C132.1,511.5 133.1,510.6 134.1,509.7 C135.1,508.9 136.2,508.0 137.2,507.1 C138.2,506.2 139.2,505.3 140.2,504.5 C141.2,503.6 142.2,502.7 143.2,501.8 C144.2,500.9 145.2,500.0 146.2,499.2 C147.2,498.3 148.2,497.4 149.2,496.5 C150.2,495.6 151.2,494.8 152.2,493.9 C153.2,493.0 154.2,492.1 155.2,491.3 C156.2,490.4 157.2,489.5 158.3,488.7 C159.3,487.8 160.3,487.0 161.3,486.1 C162.4,485.3 163.4,484.4 164.4,483.6 C165.5,482.7 166.5,481.9 167.5,481.0 C168.6,480.2 169.6,479.4 170.7,478.6 C171.7,477.8 172.8,477.0 173.9,476.2 C175.0,475.4 176.0,474.6 177.1,473.8 C178.2,473.1 179.3,472.4 180.5,471.6 C181.6,470.9 182.7,470.1 183.8,469.4 C184.9,468.6 186.0,467.9 187.0,467.1 C188.1,466.3 189.1,465.4 190.1,464.6 C191.2,463.7 192.1,462.8 193.1,461.9 C194.0,460.9 194.9,460.0 195.9,459.0 C196.8,458.0 197.7,457.0 198.5,456.0 C199.4,455.0 200.3,454.0 201.2,453.0 C202.1,452.0 203.0,451.1 203.9,450.1 C204.8,449.1 205.7,448.1 206.6,447.1 C207.5,446.2 208.4,445.2 209.3,444.2 C210.2,443.2 211.1,442.2 212.0,441.2 C212.9,440.2 213.8,439.3 214.7,438.3 C215.6,437.3 216.5,436.3 217.4,435.3 C218.2,434.3 219.1,433.2 220.0,432.2 C220.9,431.2 221.7,430.2 222.6,429.2 C223.5,428.2 224.3,427.2 225.2,426.2 C226.0,425.1 226.9,424.1 227.7,423.1 C228.6,422.0 229.4,421.0 230.3,420.0 C231.1,418.9 231.9,417.9 232.7,416.8 C233.5,415.7 234.3,414.7 235.1,413.6 C235.9,412.5 236.7,411.4 237.4,410.3 C238.2,409.2 238.9,408.1 239.6,407.0 C240.4,405.9 241.1,404.7 241.7,403.6 C242.4,402.5 243.1,401.3 243.7,400.1 C244.4,399.0 245.0,397.8 245.6,396.6 C246.2,395.4 246.8,394.2 247.3,393.0 C247.9,391.8 248.5,390.6 249.0,389.4 C249.6,388.1 250.1,386.9 250.7,385.7 C251.2,384.5 251.8,383.3 252.4,382.1 C253.0,380.9 253.6,379.7 254.2,378.5 C254.8,377.3 255.4,376.2 256.1,375.0 C256.7,373.8 257.4,372.7 258.0,371.5 C258.7,370.3 259.4,369.2 260.0,368.0 C260.7,366.9 261.3,365.7 262.0,364.5 C262.6,363.4 263.2,362.2 263.8,361.0 C264.4,359.8 265.0,358.6 265.6,357.4 C266.2,356.2 266.8,355.0 267.4,353.8 C267.9,352.6 268.5,351.4 269.0,350.2 C269.6,349.0 270.1,347.7 270.6,346.5 C271.1,345.3 271.6,344.0 272.1,342.8 C272.6,341.6 273.1,340.3 273.5,339.0 C273.9,337.8 274.3,336.5 274.7,335.2 C275.1,334.0 275.5,332.7 275.8,331.4 C276.2,330.1 276.5,328.8 276.9,327.5 C277.2,326.2 277.5,324.9 277.8,323.6 C278.1,322.3 278.4,321.0 278.7,319.7 C278.9,318.4 279.2,317.1 279.5,315.8 C279.7,314.5 280.0,313.2 280.2,311.9 C280.5,310.6 280.7,309.3 281.0,307.9 C281.2,306.6 281.4,305.3 281.7,304.0 C281.9,302.7 282.2,301.4 282.4,300.1 C282.6,298.8 282.9,297.4 283.1,296.1 C283.4,294.8 283.6,293.5 283.9,292.2 C284.1,290.9 284.4,289.6 284.6,288.3 C284.9,287.0 285.1,285.7 285.4,284.3 C285.7,283.0 285.9,281.7 286.2,280.4 C286.5,279.1 286.7,277.8 287.0,276.5 C287.3,275.2 287.5,273.9 287.8,272.6 C288.1,271.3 288.4,270.0 288.6,268.7 C288.9,267.4 289.2,266.1 289.5,264.8 C289.8,263.5 290.1,262.1 290.4,260.9 C290.8,259.6 291.2,258.3 291.7,257.1 C292.2,255.9 292.7,254.7 293.4,253.6 C294.1,252.4 294.9,251.4 295.7,250.3 C296.5,249.3 297.4,248.3 298.3,247.3 C299.2,246.3 300.1,245.3 300.9,244.3 C301.8,243.3 302.7,242.3 303.6,241.3 C304.5,240.3 305.3,239.3 306.3,238.4 C307.2,237.5 308.2,236.6 309.3,235.8 C310.3,235.0 311.4,234.3 312.6,233.7 C313.8,233.1 315.0,232.7 316.3,232.2 C317.5,231.8 318.8,231.4 320.1,231.1 C321.4,230.8 322.7,230.5 324.0,230.2 C325.3,230.0 326.6,229.7 327.9,229.5 C329.2,229.3 330.6,229.1 331.9,228.9 C333.2,228.8 334.5,228.6 335.9,228.4 C337.2,228.3 338.5,228.1 339.8,228.0 C341.2,227.9 342.5,227.8 343.8,227.7 C345.2,227.7 346.5,227.6 347.8,227.6 C349.2,227.5 350.5,227.5 351.8,227.5 C353.2,227.5 354.5,227.5 355.8,227.5 C357.2,227.6 358.5,227.6 359.8,227.6 C361.2,227.7 362.5,227.8 363.8,227.9 C365.2,228.0 366.5,228.1 367.8,228.2 C369.1,228.4 370.4,228.6 371.8,228.8 C373.1,229.0 374.4,229.3 375.7,229.6 C377.0,229.8 378.3,230.1 379.6,230.4 C380.9,230.7 382.2,231.1 383.5,231.4 C384.8,231.7 386.1,232.1 387.3,232.4 C388.6,232.8 389.9,233.1 391.2,233.5 C392.4,233.9 393.7,234.4 395.0,234.8 C396.2,235.3 397.4,235.8 398.7,236.4 C399.9,236.9 401.1,237.5 402.2,238.1 C403.4,238.7 404.6,239.4 405.7,240.1 C406.9,240.7 408.0,241.4 409.1,242.2 C410.3,242.9 411.4,243.6 412.5,244.3 C413.6,245.1 414.7,245.9 415.7,246.7 C416.8,247.5 417.8,248.3 418.8,249.2 C419.8,250.1 420.8,251.0 421.7,252.0 C422.6,252.9 423.4,254.0 424.2,255.0 C425.0,256.1 425.8,257.2 426.6,258.2 C427.4,259.3 428.2,260.4 428.9,261.5 C429.7,262.6 430.5,263.6 431.3,264.7 C432.0,265.8 432.8,266.9 433.5,268.0 C434.3,269.2 435.0,270.3 435.7,271.4 C436.5,272.5 437.2,273.6 437.9,274.7 C438.7,275.8 439.4,277.0 440.2,278.0 C440.9,279.1 441.7,280.2 442.5,281.3 C443.3,282.4 444.1,283.4 444.8,284.5 C445.6,285.6 446.4,286.7 447.1,287.8 C447.8,288.9 448.6,290.1 449.2,291.2 C449.9,292.3 450.6,293.5 451.3,294.7 C451.9,295.8 452.6,297.0 453.2,298.2 C453.8,299.3 454.4,300.5 455.0,301.7 C455.6,302.9 456.1,304.2 456.6,305.4 C457.2,306.6 457.7,307.8 458.2,309.1 C458.7,310.3 459.2,311.5 459.7,312.8 C460.3,314.0 460.8,315.2 461.3,316.4 C461.9,317.6 462.4,318.9 462.9,320.1 C463.5,321.3 464.0,322.5 464.5,323.8 C465.0,325.0 465.5,326.2 466.0,327.5 C466.5,328.7 467.0,330.0 467.4,331.2 C467.8,332.5 468.2,333.8 468.6,335.0 C469.0,336.3 469.4,337.6 469.8,338.9 C470.2,340.1 470.6,341.4 471.0,342.7 C471.4,343.9 471.8,345.2 472.2,346.5 C472.6,347.8 473.1,349.0 473.5,350.3 C473.9,351.6 474.3,352.8 474.7,354.1 C475.1,355.4 475.5,356.7 475.9,357.9 C476.3,359.2 476.7,360.5 477.1,361.7 C477.5,363.0 477.9,364.3 478.3,365.5 C478.8,366.8 479.2,368.1 479.6,369.4 C480.0,370.6 480.4,371.9 480.8,373.2 C481.2,374.4 481.6,375.7 482.0,377.0 C482.4,378.2 482.8,379.5 483.2,380.8 C483.7,382.1 484.1,383.3 484.5,384.6 C484.9,385.9 485.3,387.1 485.7,388.4 C486.1,389.7 486.5,390.9 486.9,392.2 C487.3,393.5 487.8,394.7 488.2,396.0 C488.6,397.3 489.0,398.6 489.4,399.8 C489.8,401.1 490.2,402.4 490.7,403.6 C491.1,404.9 491.5,406.2 491.9,407.4 C492.3,408.7 492.7,410.0 493.2,411.2 C493.6,412.5 494.0,413.8 494.4,415.0 C494.8,416.3 495.3,417.6 495.7,418.8 C496.1,420.1 496.5,421.4 496.9,422.6 C497.4,423.9 497.8,425.2 498.2,426.4 C498.6,427.7 499.0,429.0 499.5,430.2 C499.9,431.5 500.3,432.8 500.7,434.0 C501.2,435.3 501.6,436.5 502.0,437.8 C502.5,439.1 502.9,440.3 503.3,441.6 C503.7,442.9 504.2,444.1 504.6,445.4 C505.1,446.6 505.5,447.9 506.0,449.2 C506.4,450.4 506.9,451.7 507.3,452.9 C507.8,454.2 508.3,455.4 508.7,456.7 C509.2,457.9 509.6,459.2 510.1,460.4 C510.6,461.7 511.0,462.9 511.4,464.2 C511.9,465.5 512.3,466.7 512.7,468.0 C513.1,469.3 513.4,470.6 513.8,471.8 C514.2,473.1 514.5,474.4 514.8,475.7 C515.2,477.0 515.5,478.3 515.9,479.6 C516.2,480.9 516.6,482.1 517.0,483.4 C517.4,484.7 517.8,486.0 518.2,487.2 C518.7,488.5 519.1,489.7 519.7,490.9 C520.2,492.1 520.8,493.3 521.4,494.5 C522.0,495.7 522.7,496.9 523.4,498.0 C524.1,499.1 524.8,500.2 525.5,501.4 C526.3,502.5 527.1,503.5 527.9,504.6 C528.6,505.7 529.5,506.8 530.3,507.8 C531.1,508.9 531.9,509.9 532.8,510.9 C533.6,512.0 534.5,513.0 535.3,514.0 C536.2,515.0 537.0,516.1 537.9,517.0 C538.8,518.0 539.8,519.0 540.7,519.9 C541.6,520.9 542.6,521.8 543.6,522.6 C544.7,523.5 545.7,524.3 546.8,525.1 C547.9,525.8 549.0,526.5 550.2,527.1 C551.3,527.8 552.6,528.3 553.8,528.8 C555.0,529.3 556.3,529.8 557.5,530.2 C558.8,530.6 560.6,531.1 561.3,531.4 C562.1,531.7 562.1,531.7 562.3,531.7" stroke="#000" stroke-width="2.1" fill="none" />
<path d="M313.2,307.2 C313.1,307.9 312.6,309.8 312.3,311.1 C312.0,312.4 311.7,313.7 311.4,315.0 C311.1,316.3 310.8,317.6 310.5,318.9 C310.2,320.2 309.9,321.5 309.6,322.8 C309.3,324.1 309.0,325.4 308.7,326.7 C308.4,328.0 308.0,329.3 307.7,330.6 C307.4,331.9 307.1,333.2 306.8,334.5 C306.5,335.8 306.1,337.1 305.8,338.4 C305.5,339.7 305.1,341.0 304.7,342.3 C304.4,343.5 304.0,344.8 303.6,346.1 C303.2,347.4 302.9,348.7 302.5,349.9 C302.1,351.2 301.7,352.5 301.2,353.8 C300.8,355.0 300.4,356.3 300.0,357.6 C299.5,358.8 299.1,360.1 298.6,361.3 C298.2,362.6 297.7,363.8 297.2,365.1 C296.7,366.3 296.2,367.6 295.7,368.8 C295.2,370.0 294.7,371.3 294.1,372.5 C293.6,373.7 293.1,374.9 292.5,376.1 C292.0,377.4 291.4,378.6 290.8,379.8 C290.2,381.0 289.7,382.2 289.1,383.4 C288.5,384.6 287.9,385.8 287.2,386.9 C286.6,388.1 285.9,389.2 285.2,390.4 C284.5,391.5 283.7,392.6 283.0,393.7 C282.3,394.9 281.7,396.0 281.0,397.2 C280.3,398.3 279.7,399.5 279.0,400.7 C278.4,401.8 277.7,403.0 277.1,404.2 C276.4,405.3 275.8,406.5 275.1,407.7 C274.5,408.8 273.8,410.0 273.1,411.2 C272.4,412.3 271.8,413.4 271.1,414.6 C270.4,415.7 269.6,416.8 268.9,418.0 C268.2,419.1 267.4,420.2 266.7,421.3 C265.9,422.4 265.2,423.5 264.4,424.6 C263.6,425.7 262.8,426.7 262.0,427.8 C261.2,428.9 260.4,430.0 259.6,431.0 C258.8,432.1 258.0,433.2 257.2,434.2 C256.4,435.3 255.6,436.4 254.8,437.4 C254.0,438.5 253.2,439.5 252.3,440.6 C251.5,441.7 250.7,442.7 249.9,443.8 C249.1,444.8 248.2,445.9 247.4,446.9 C246.6,447.9 245.7,449.0 244.9,450.0 C244.0,451.0 243.1,452.1 242.3,453.1 C241.4,454.1 240.5,455.1 239.6,456.1 C238.7,457.0 237.8,458.0 236.9,459.0 C236.0,459.9 235.0,460.9 234.1,461.8 C233.1,462.8 232.2,463.7 231.2,464.7 C230.3,465.6 229.3,466.5 228.3,467.4 C227.4,468.3 226.4,469.3 225.4,470.2 C224.4,471.1 223.5,472.0 222.5,472.9 C221.5,473.8 220.5,474.7 219.5,475.6 C218.5,476.5 217.5,477.4 216.5,478.3 C215.5,479.2 214.5,480.1 213.5,481.0 C212.5,481.8 211.5,482.7 210.6,483.6 C209.6,484.5 208.6,485.4 207.6,486.3 C206.6,487.2 205.6,488.1 204.6,489.0 C203.6,489.9 202.6,490.7 201.6,491.6 C200.6,492.5 199.6,493.4 198.6,494.3 C197.6,495.1 196.5,496.0 195.5,496.9 C194.5,497.7 193.5,498.6 192.5,499.5 C191.5,500.4 190.5,501.2 189.4,502.1 C188.4,502.9 187.4,503.8 186.3,504.6 C185.3,505.4 184.2,506.3 183.2,507.1 C182.1,507.9 181.0,508.7 179.9,509.4 C178.9,510.2 177.8,511.0 176.7,511.8 C175.6,512.5 174.5,513.3 173.4,514.1 C172.3,514.8 171.2,515.6 170.1,516.3 C169.0,517.1 167.9,517.8 166.8,518.6 C165.7,519.3 164.6,520.1 163.4,520.8 C162.3,521.6 161.2,522.3 160.1,523.1 C159.0,523.8 157.9,524.6 156.8,525.3 C155.7,526.1 154.6,526.8 153.5,527.6 C152.4,528.3 151.3,529.1 150.2,529.8 C149.1,530.6 148.0,531.3 146.9,532.1 C145.8,532.9 144.4,533.9 143.6,534.4 C142.8,535.0 142.3,535.4 142.0,535.6" stroke="#000" stroke-width="3.4" fill="none" />
<path d="M562.3,531.9 C561.6,531.9 559.6,532.0 558.3,532.1 C557.0,532.1 555.6,532.2 554.3,532.3 C553.0,532.3 551.6,532.4 550.3,532.4 C549.0,532.5 547.6,532.5 546.3,532.5 C544.9,532.5 543.6,532.5 542.3,532.4 C540.9,532.3 539.6,532.2 538.3,532.1 C537.0,531.9 535.6,531.7 534.3,531.5 C533.0,531.3 531.7,531.0 530.4,530.8 C529.1,530.5 527.8,530.2 526.5,529.9 C525.2,529.6 523.9,529.3 522.6,529.0 C521.3,528.6 520.0,528.4 518.7,528.1 C517.4,527.8 516.1,527.5 514.8,527.2 C513.5,526.9 512.2,526.5 510.9,526.2 C509.6,525.9 508.3,525.6 507.0,525.2 C505.7,524.8 504.4,524.4 503.2,524.0 C501.9,523.6 500.7,523.1 499.4,522.6 C498.2,522.1 497.0,521.6 495.8,521.0 C494.6,520.4 493.4,519.7 492.3,519.1 C491.1,518.4 490.0,517.6 488.9,516.9 C487.8,516.1 486.7,515.4 485.6,514.6 C484.6,513.8 483.5,513.0 482.5,512.1 C481.4,511.3 480.3,510.5 479.3,509.7 C478.2,508.9 477.1,508.1 476.1,507.3 C475.0,506.5 473.9,505.7 472.9,504.9 C471.8,504.0 470.8,503.2 469.8,502.4 C468.7,501.5 467.7,500.7 466.7,499.8 C465.6,498.9 464.6,498.1 463.7,497.2 C462.7,496.3 461.7,495.4 460.7,494.4 C459.8,493.5 458.8,492.6 457.9,491.6 C456.9,490.7 456.0,489.7 455.1,488.7 C454.2,487.8 453.3,486.8 452.4,485.8 C451.5,484.8 450.6,483.8 449.7,482.8 C448.8,481.8 448.0,480.8 447.1,479.8 C446.2,478.7 445.4,477.7 444.6,476.6 C443.7,475.6 442.9,474.5 442.1,473.5 C441.3,472.4 440.6,471.3 439.8,470.2 C439.0,469.1 438.3,468.0 437.6,466.9 C436.9,465.7 436.2,464.6 435.5,463.4 C434.8,462.3 434.2,461.1 433.6,460.0 C432.9,458.8 432.3,457.6 431.7,456.4 C431.1,455.2 430.4,454.0 429.8,452.9 C429.2,451.7 428.6,450.5 428.0,449.3 C427.4,448.1 426.7,446.9 426.1,445.8 C425.5,444.6 424.9,443.4 424.2,442.2 C423.6,441.0 423.0,439.9 422.4,438.7 C421.7,437.5 421.1,436.3 420.5,435.1 C419.9,433.9 419.2,432.8 418.6,431.6 C418.0,430.4 417.4,429.2 416.8,428.0 C416.2,426.8 415.6,425.6 415.0,424.5 C414.4,423.3 413.8,422.1 413.2,420.9 C412.6,419.7 412.0,418.5 411.4,417.3 C410.8,416.1 410.2,414.9 409.7,413.7 C409.1,412.5 408.6,411.2 408.0,410.0 C407.5,408.8 406.9,407.6 406.4,406.3 C405.9,405.1 405.4,403.9 404.9,402.6 C404.4,401.4 403.9,400.2 403.3,398.9 C402.8,397.7 402.3,396.5 401.7,395.3 C401.2,394.0 400.6,392.8 400.0,391.6 C399.4,390.4 398.8,389.3 398.2,388.1 C397.5,386.9 396.9,385.7 396.2,384.6 C395.5,383.4 394.8,382.3 394.2,381.2 C393.5,380.0 392.7,378.9 392.0,377.8 C391.3,376.6 390.6,375.5 389.9,374.4 C389.2,373.2 388.5,372.1 387.8,371.0 C387.0,369.9 386.3,368.7 385.6,367.6 C384.8,366.5 384.1,365.4 383.3,364.3 C382.6,363.2 381.8,362.1 381.0,361.0 C380.2,360.0 379.4,358.9 378.6,357.9 C377.7,356.8 376.9,355.7 376.1,354.7 C375.3,353.6 374.4,352.6 373.6,351.6 C372.8,350.5 371.9,349.5 371.1,348.5 C370.2,347.4 369.4,346.4 368.5,345.4 C367.6,344.3 366.8,343.3 365.9,342.3 C365.0,341.3 364.1,340.3 363.2,339.3 C362.3,338.3 361.4,337.4 360.5,336.4 C359.6,335.4 358.6,334.5 357.7,333.6 C356.7,332.6 355.8,331.7 354.8,330.8 C353.8,329.9 352.7,329.1 351.7,328.2 C350.7,327.4 349.6,326.6 348.6,325.8 C347.5,324.9 346.4,324.2 345.3,323.4 C344.2,322.6 343.1,321.9 342.0,321.2 C340.9,320.5 339.7,319.8 338.6,319.1 C337.4,318.4 336.3,317.7 335.1,317.1 C333.9,316.4 332.8,315.8 331.6,315.2 C330.4,314.6 329.2,314.0 328.0,313.4 C326.8,312.9 325.5,312.3 324.3,311.8 C323.1,311.3 321.9,310.7 320.6,310.2 C319.4,309.7 318.1,309.2 316.9,308.7 C315.7,308.2 313.8,307.5 313.2,307.2" stroke="#000" stroke-width="3.4" fill="none" />
<line x1="105.0" y1="535.2" x2="151.5" y2="529.2" stroke="#f4f4f4" stroke-width="1.2" />
<path d="M295.4,367.3 L305.4,345.8 L315.7,361.5Z" stroke="#000" stroke-width="0" fill="#000" stroke="none"/>
<path d="M256.1,435.7 L269.1,416.5 L274.5,436.5Z" stroke="#000" stroke-width="0" fill="#000" stroke="none"/>
<path d="M194.5,498.0 L210.6,485.9 L210.6,503.3Z" stroke="#000" stroke-width="0" fill="#000" stroke="none"/>
<path d="M362.7,338.7 C364.7,338.7 371.3,337.3 374.5,338.7 C377.7,340.1 380.8,344.8 382.0,347.3 C383.2,349.8 382.2,351.8 382.0,353.8 C381.8,355.8 381.2,358.2 381.0,359.1Z" stroke="#000" stroke-width="0" fill="#000" stroke="none"/>
<path d="M411.8,417.0 C412.9,417.0 415.7,415.2 418.3,417.0 C420.9,418.8 426.1,424.2 427.4,427.5 C428.7,430.8 427.2,434.9 426.1,436.6 C425.0,438.3 421.8,437.7 420.9,437.9Z" stroke="#000" stroke-width="0" fill="#000" stroke="none"/>
<path d="M478.3,512.3 C480.1,511.4 485.5,507.1 488.8,507.1 C492.1,507.1 496.2,509.9 497.9,512.3 C499.5,514.7 498.7,519.8 498.7,521.5 C498.7,523.2 498.0,522.6 497.9,522.8Z" stroke="#000" stroke-width="0" fill="#000" stroke="none"/>
<line x1="50.8" y1="269.2" x2="595.0" y2="269.2" stroke="#000" stroke-width="1.6" stroke-dasharray="1.5,6.246"/>
<line x1="39.5" y1="436.8" x2="622.5" y2="436.8" stroke="#000" stroke-width="1.6" stroke-dasharray="1.5,6.25"/>
<path d="M332.9,158.8 C332.3,159.1 330.5,159.9 329.2,160.5 C328.0,161.1 326.8,161.6 325.6,162.2 C324.4,162.8 323.2,163.4 322.0,164.0 C320.8,164.6 319.6,165.2 318.4,165.9 C317.2,166.5 316.0,167.2 314.9,167.9 C313.7,168.6 312.6,169.3 311.5,170.1 C310.4,170.8 309.3,171.6 308.2,172.4 C307.1,173.2 306.0,174.0 304.9,174.8 C303.9,175.6 302.8,176.4 301.8,177.3 C300.7,178.1 299.7,179.0 298.6,179.8 C297.6,180.7 296.6,181.5 295.6,182.4 C294.5,183.3 293.5,184.2 292.5,185.1 C291.6,186.0 290.6,186.9 289.6,187.9 C288.7,188.8 287.7,189.8 286.8,190.8 C285.9,191.7 285.0,192.7 284.1,193.8 C283.2,194.8 282.3,195.8 281.5,196.8 C280.6,197.9 279.8,198.9 279.0,200.0 C278.2,201.1 277.4,202.2 276.6,203.2 C275.8,204.3 275.0,205.4 274.2,206.5 C273.4,207.6 272.6,208.7 271.9,209.8 C271.1,210.9 270.2,212.2 269.5,213.1 C268.9,214.1 268.1,215.2 267.8,215.6" stroke="#0000ff" stroke-width="3.2" fill="none" stroke-linecap="round"/>
<path d="M267.8,204.4 L267.8,215.6 L282.9,209.8" stroke="#0000ff" stroke-width="3.2" fill="none" stroke-linecap="round" stroke-linejoin="round"/>
<path d="M464.3,272.9 C464.0,272.3 463.2,270.5 462.6,269.3 C462.0,268.1 461.4,266.9 460.8,265.7 C460.2,264.5 459.6,263.3 459.0,262.1 C458.3,260.9 457.7,259.7 457.0,258.6 C456.4,257.4 455.7,256.3 455.0,255.1 C454.3,254.0 453.6,252.8 452.9,251.7 C452.2,250.6 451.5,249.4 450.7,248.3 C450.0,247.2 449.3,246.1 448.5,244.9 C447.8,243.8 447.0,242.7 446.3,241.6 C445.5,240.5 444.7,239.5 443.9,238.4 C443.1,237.3 442.3,236.3 441.5,235.2 C440.6,234.1 439.8,233.1 439.0,232.1 C438.1,231.0 437.3,230.0 436.4,229.0 C435.5,227.9 434.7,226.9 433.8,225.9 C432.9,224.9 432.0,223.9 431.1,222.9 C430.2,221.9 429.3,220.9 428.4,219.9 C427.5,219.0 426.5,218.0 425.6,217.1 C424.6,216.2 423.7,215.2 422.7,214.3 C421.7,213.4 420.7,212.5 419.7,211.7 C418.7,210.8 417.6,209.9 416.6,209.0 C415.6,208.2 414.6,207.3 413.6,206.4 C412.5,205.6 411.5,204.7 410.5,203.9 C409.4,203.0 408.4,202.2 407.4,201.3 C406.3,200.5 405.3,199.7 404.2,198.8 C403.2,198.0 402.1,197.2 401.0,196.4 C399.9,195.6 398.9,194.8 397.8,194.0 C396.7,193.2 395.6,192.5 394.5,191.7 C393.4,191.0 392.3,190.2 391.2,189.5 C390.0,188.7 388.9,188.0 387.8,187.3 C386.7,186.6 385.5,185.8 384.4,185.1 C383.3,184.4 382.1,183.7 381.0,183.0 C379.8,182.3 378.3,181.4 377.6,180.9 C376.8,180.5 376.8,180.5 376.7,180.4" stroke="#0000ff" stroke-width="3.2" fill="none" stroke-linecap="round"/>
<path d="M393.9,181.1 L376.7,180.4 L383.4,198.9" stroke="#0000ff" stroke-width="3.2" fill="none" stroke-linecap="round" stroke-linejoin="round"/>
<path d="M528.5,389.6 C528.6,388.9 528.7,386.9 528.8,385.6 C528.9,384.3 529.0,382.9 529.1,381.6 C529.3,380.2 529.4,378.9 529.5,377.6 C529.6,376.2 529.6,374.9 529.7,373.6 C529.8,372.2 529.9,370.9 530.0,369.5 C530.1,368.2 530.2,366.9 530.3,365.5 C530.4,364.2 530.5,362.8 530.6,361.5 C530.6,360.2 530.7,358.8 530.7,357.5 C530.7,356.2 530.6,354.8 530.6,353.5 C530.5,352.1 530.4,350.8 530.3,349.5 C530.2,348.1 530.1,346.8 529.9,345.5 C529.8,344.1 529.6,342.8 529.4,341.5 C529.2,340.1 529.0,338.8 528.9,337.5 C528.7,336.2 528.4,334.8 528.2,333.5 C528.0,332.2 527.8,330.9 527.6,329.5 C527.3,328.2 527.1,326.9 526.9,325.6 C526.6,324.3 526.4,322.9 526.1,321.6 C525.9,320.3 525.6,319.0 525.3,317.7 C525.0,316.4 524.7,315.1 524.4,313.8 C524.1,312.5 523.8,311.2 523.4,309.9 C523.1,308.6 522.7,307.3 522.3,306.0 C521.9,304.7 521.5,303.5 521.0,302.2 C520.6,300.9 520.1,299.7 519.6,298.4 C519.2,297.2 518.7,295.9 518.2,294.6 C517.7,293.4 517.2,292.1 516.8,290.9 C516.3,289.6 515.8,288.4 515.3,287.2 C514.8,285.9 514.3,284.7 513.8,283.4 C513.3,282.2 512.8,280.9 512.3,279.7 C511.8,278.4 511.3,277.2 510.8,275.9 C510.3,274.7 509.8,273.3 509.3,272.2 C508.9,271.1 508.4,269.9 508.2,269.4" stroke="#0000ff" stroke-width="3.2" fill="none" stroke-linecap="round"/>
<path d="M509.1,289.1 L508.2,269.4 L522.3,278.8" stroke="#0000ff" stroke-width="3.2" fill="none" stroke-linecap="round" stroke-linejoin="round"/>
<path d="M187.2,236.7 C187.2,237.4 187.3,239.4 187.3,240.7 C187.4,242.0 187.4,243.4 187.5,244.7 C187.5,246.0 187.6,247.4 187.6,248.7 C187.7,250.1 187.8,251.4 187.8,252.7 C187.9,254.1 188.0,255.4 188.1,256.7 C188.2,258.1 188.3,259.4 188.4,260.7 C188.5,262.1 188.6,263.4 188.7,264.7 C188.8,266.0 188.9,267.4 189.0,268.7 C189.2,270.0 189.3,271.4 189.4,272.7 C189.6,274.0 189.7,275.4 189.8,276.7 C190.0,278.0 190.1,279.3 190.3,280.7 C190.5,282.0 190.6,283.3 190.8,284.6 C191.0,286.0 191.1,287.3 191.3,288.6 C191.5,289.9 191.7,291.3 191.9,292.6 C192.2,293.9 192.4,295.2 192.6,296.5 C192.9,297.8 193.2,299.1 193.5,300.4 C193.8,301.7 194.2,303.0 194.6,304.3 C195.0,305.6 195.4,306.8 195.9,308.1 C196.3,309.3 196.8,310.6 197.3,311.8 C197.8,313.1 198.3,314.3 198.8,315.5 C199.4,316.8 199.9,318.0 200.4,319.2 C201.0,320.4 201.5,321.6 202.1,322.9 C202.6,324.1 203.2,325.3 203.7,326.5 C204.3,327.7 204.9,328.9 205.4,330.1 C206.0,331.4 206.7,333.0 207.1,333.8 C207.4,334.5 207.4,334.5 207.5,334.7" stroke="#0000ff" stroke-width="3.2" fill="none" stroke-linecap="round"/>
<path d="M207.5,316.4 L207.5,334.7 L191.4,325.0" stroke="#0000ff" stroke-width="3.2" fill="none" stroke-linecap="round" stroke-linejoin="round"/>
<path d="M91.0,271.2 C91.2,271.8 91.7,273.8 92.0,275.1 C92.3,276.4 92.7,277.7 93.0,279.0 C93.3,280.3 93.7,281.6 94.0,282.9 C94.3,284.2 94.7,285.5 95.1,286.7 C95.4,288.0 95.8,289.3 96.2,290.6 C96.6,291.9 97.0,293.1 97.4,294.4 C97.8,295.7 98.3,297.0 98.7,298.2 C99.2,299.5 99.7,300.7 100.2,302.0 C100.6,303.2 101.1,304.5 101.6,305.7 C102.1,306.9 102.6,308.2 103.2,309.4 C103.7,310.6 104.2,311.9 104.8,313.1 C105.3,314.3 105.8,315.5 106.4,316.8 C107.0,318.0 107.5,319.2 108.1,320.4 C108.7,321.6 109.3,322.8 109.9,324.0 C110.6,325.2 111.2,326.3 111.8,327.5 C112.5,328.7 113.1,329.8 113.8,331.0 C114.5,332.2 115.2,333.3 115.9,334.4 C116.6,335.6 117.3,336.7 118.1,337.8 C118.8,338.9 119.6,340.0 120.3,341.1 C121.1,342.2 121.9,343.3 122.7,344.4 C123.5,345.5 124.3,346.5 125.2,347.5 C126.0,348.6 126.9,349.6 127.7,350.6 C128.6,351.6 129.5,352.6 130.4,353.6 C131.4,354.6 132.3,355.5 133.2,356.5 C134.2,357.4 135.1,358.4 136.0,359.3 C137.0,360.3 138.2,361.5 138.9,362.2 C139.6,362.9 140.1,363.4 140.3,363.6" stroke="#0000ff" stroke-width="3.2" fill="none" stroke-linecap="round"/>
<path d="M135.2,344.5 L140.3,363.6 L120.2,355.6" stroke="#0000ff" stroke-width="3.2" fill="none" stroke-linecap="round" stroke-linejoin="round"/>
<path d="M57.8,377.2 C58.1,377.8 58.9,379.6 59.5,380.9 C60.1,382.1 60.7,383.3 61.3,384.5 C61.9,385.7 62.5,386.9 63.1,388.1 C63.7,389.3 64.3,390.5 65.0,391.7 C65.7,392.9 66.3,394.0 67.0,395.2 C67.7,396.3 68.4,397.5 69.2,398.6 C69.9,399.7 70.7,400.8 71.4,401.9 C72.2,403.0 73.0,404.1 73.8,405.2 C74.6,406.3 75.4,407.4 76.1,408.5 C76.9,409.6 77.7,410.7 78.6,411.8 C79.4,412.8 80.2,413.9 81.0,415.0 C81.8,416.0 82.7,417.1 83.5,418.2 C84.4,419.2 85.2,420.3 86.1,421.3 C86.9,422.3 87.8,423.4 88.7,424.4 C89.5,425.4 90.4,426.4 91.3,427.4 C92.2,428.5 93.1,429.5 94.0,430.5 C94.9,431.5 95.8,432.5 96.7,433.5 C97.6,434.5 98.5,435.5 99.4,436.5 C100.3,437.5 101.2,438.5 102.1,439.5 C103.0,440.5 103.9,441.5 104.9,442.5 C105.8,443.4 106.7,444.4 107.6,445.4 C108.6,446.4 109.8,447.6 110.5,448.3 C111.2,449.0 111.7,449.5 111.9,449.7" stroke="#0000ff" stroke-width="3.2" fill="none" stroke-linecap="round"/>
<path d="M105.1,433.6 L111.9,449.7 L95.0,443.7" stroke="#0000ff" stroke-width="3.2" fill="none" stroke-linecap="round" stroke-linejoin="round"/>
<path d="M303.7,435.7 C304.3,435.4 306.1,434.4 307.3,433.8 C308.4,433.2 309.6,432.6 310.8,431.9 C312.0,431.3 313.1,430.6 314.3,429.9 C315.5,429.3 316.6,428.6 317.7,427.8 C318.9,427.1 320.0,426.4 321.1,425.6 C322.2,424.8 323.3,424.1 324.3,423.3 C325.4,422.5 326.5,421.6 327.5,420.8 C328.6,420.0 329.6,419.1 330.7,418.3 C331.7,417.4 332.7,416.5 333.7,415.7 C334.7,414.8 335.7,413.9 336.7,412.9 C337.7,412.0 338.6,411.1 339.6,410.1 C340.5,409.2 341.5,408.2 342.4,407.3 C343.3,406.3 344.3,405.4 345.2,404.4 C346.2,403.5 347.1,402.5 348.0,401.5 C349.0,400.6 349.9,399.6 350.9,398.7 C351.8,397.7 353.1,396.4 353.7,395.8 C354.3,395.2 354.3,395.2 354.4,395.1" stroke="#ff0000" stroke-width="3.2" fill="none" stroke-linecap="round"/>
<path d="M342.6,399.4 L354.4,395.1 L353.6,407.0" stroke="#ff0000" stroke-width="3.2" fill="none" stroke-linecap="round" stroke-linejoin="round"/>
<path d="M283.4,494.8 C284.1,494.7 286.1,494.3 287.4,494.1 C288.7,493.9 290.0,493.6 291.4,493.4 C292.7,493.2 294.0,492.9 295.3,492.7 C296.6,492.5 298.0,492.2 299.3,491.9 C300.6,491.7 301.9,491.4 303.2,491.1 C304.6,490.8 305.9,490.5 307.2,490.1 C308.5,489.8 309.8,489.4 311.0,489.0 C312.3,488.6 313.6,488.2 314.9,487.8 C316.1,487.3 317.4,486.9 318.7,486.4 C319.9,485.9 321.2,485.4 322.4,484.9 C323.6,484.4 324.9,483.9 326.1,483.3 C327.4,482.8 328.6,482.3 329.8,481.7 C331.0,481.1 332.3,480.6 333.5,480.0 C334.7,479.4 335.9,478.8 337.1,478.2 C338.3,477.6 339.5,477.0 340.7,476.4 C341.9,475.7 343.1,475.1 344.3,474.5 C345.5,473.9 346.7,473.3 347.9,472.7 C349.1,472.1 350.3,471.6 351.6,471.1 C352.8,470.5 354.0,470.0 355.3,469.5 C356.5,469.0 357.8,468.6 359.1,468.1 C360.3,467.6 361.6,467.2 362.9,466.7 C364.1,466.3 365.4,465.9 366.7,465.4 C368.0,465.0 369.9,464.3 370.5,464.1" stroke="#ff0000" stroke-width="3.2" fill="none" stroke-linecap="round"/>
<path d="M359.5,464.1 L370.5,464.1 L367.1,474.6" stroke="#ff0000" stroke-width="3.2" fill="none" stroke-linecap="round" stroke-linejoin="round"/>
<text x="31.3" y="275.7" font-size="27" font-weight="bold" text-anchor="start">A</text>
<text x="615.3" y="277.7" font-size="27" font-weight="bold" text-anchor="start">B</text>
<text x="5.6" y="432.9" font-size="29" font-weight="bold" text-anchor="start">C</text>
<text x="625.2" y="446.8" font-size="28" font-weight="bold" text-anchor="start">D</text>
<text x="296.2" y="300" font-size="25" font-weight="bold" text-anchor="start">N</text>
<text x="364.6" y="198.6" font-size="21" text-anchor="start">As</text>
<text x="466.9" y="182.2" font-size="21" text-anchor="start">Ci</text>
<text x="449.8" y="244.2" font-size="21" text-anchor="start">Cs</text>
<text x="539" y="242.5" font-size="21" text-anchor="start">Ci</text>
<text x="344.3" y="309.90000000000003" font-size="21" text-anchor="start">Ns</text>
<text x="379.4" y="286.0" font-size="21" text-anchor="start">Ns</text>
<text x="478.2" y="327.6" font-size="21" text-anchor="start">As</text>
<text x="263.3" y="385.6" font-size="21" text-anchor="start">Cb</text>
<text x="537.2" y="375.5" font-size="21" text-anchor="start">Cs</text>
<text x="438.8" y="406.8" font-size="21" text-anchor="start">Ns</text>
<text x="521.3" y="421.6" font-size="21" text-anchor="start">As</text>
<text x="566.7" y="421.6" font-size="21" text-anchor="start">Ci</text>
<line x1="94.0" y1="603.6" x2="519.4" y2="603.6" stroke="#ff0000" stroke-width="1.15" />
<path d="M502.8,596.6 L519.4,603.6 L504.2,610.4" stroke="#ff0000" stroke-width="1.15" fill="none" />
<line x1="65.8" y1="719.0" x2="234.0" y2="719.0" stroke="#000" stroke-width="3.4" />
<line x1="234.0" y1="718.6" x2="566.3" y2="718.6" stroke="#000" stroke-width="3.2" />
<path d="M67.5,633.3 C68.2,633.4 70.1,633.8 71.4,634.1 C72.8,634.3 74.1,634.6 75.4,634.8 C76.7,635.1 78.0,635.3 79.3,635.6 C80.7,635.8 82.0,636.1 83.3,636.3 C84.6,636.6 85.9,636.8 87.2,637.1 C88.5,637.4 89.9,637.6 91.2,637.9 C92.5,638.2 93.8,638.5 95.1,638.8 C96.4,639.0 97.7,639.3 99.0,639.7 C100.3,640.0 101.6,640.3 102.9,640.6 C104.2,640.9 105.5,641.2 106.8,641.6 C108.1,641.9 109.4,642.2 110.7,642.5 C112.0,642.9 113.3,643.2 114.6,643.6 C115.9,643.9 117.2,644.3 118.5,644.6 C119.8,645.0 121.1,645.3 122.4,645.7 C123.6,646.1 124.9,646.4 126.2,646.8 C127.5,647.2 128.8,647.6 130.1,647.9 C131.4,648.3 132.6,648.7 133.9,649.1 C135.2,649.5 136.5,649.9 137.8,650.3 C139.0,650.7 140.3,651.1 141.6,651.5 C142.9,652.0 144.1,652.4 145.4,652.8 C146.7,653.2 147.9,653.6 149.2,654.1 C150.5,654.5 151.8,654.9 153.0,655.4 C154.3,655.8 155.6,656.3 156.8,656.7 C158.1,657.1 159.3,657.6 160.6,658.0 C161.9,658.5 163.1,658.9 164.4,659.4 C165.6,659.9 166.9,660.3 168.1,660.8 C169.4,661.3 170.6,661.8 171.9,662.3 C173.1,662.8 174.4,663.3 175.6,663.8 C176.9,664.3 178.1,664.8 179.3,665.3 C180.6,665.8 181.8,666.4 183.0,666.9 C184.3,667.4 185.5,667.9 186.7,668.5 C187.9,669.0 189.2,669.6 190.4,670.2 C191.6,670.8 192.7,671.4 193.9,672.1 C195.0,672.8 196.2,673.5 197.3,674.2 C198.4,675.0 199.5,675.7 200.6,676.5 C201.7,677.3 202.8,678.1 203.8,678.9 C204.9,679.7 205.9,680.5 207.0,681.4 C208.0,682.3 209.0,683.2 210.0,684.1 C210.9,685.0 211.9,685.9 212.8,686.9 C213.7,687.9 214.6,688.9 215.5,689.8 C216.4,690.8 217.3,691.9 218.2,692.9 C219.1,693.9 219.9,694.9 220.8,695.9 C221.6,697.0 222.5,698.0 223.4,699.0 C224.2,700.0 225.1,701.0 226.0,702.1 C226.8,703.1 227.7,704.1 228.5,705.2 C229.3,706.3 230.0,707.4 230.6,708.6 C231.3,709.7 231.8,711.0 232.3,712.2 C232.7,713.5 233.1,714.9 233.3,716.0 C233.6,717.2 233.7,718.5 233.8,719.0" stroke="#000" stroke-width="3.4" fill="none" />
<line x1="233.4" y1="719.0" x2="233.4" y2="726.0" stroke="#000" stroke-width="1.2" />
<path d="M233.2,725.3 L241.9,734.2 L233.4,744.2Z" stroke="#000" stroke-width="0" fill="#000" stroke="none"/>
<line x1="397.0" y1="718.0" x2="397.0" y2="726.0" stroke="#000" stroke-width="1.4" />
<path d="M397.3,725.6 C403,726 405,730 404.8,734.5 C404.6,739 402,743 397.3,743.2 Z" fill="#000" stroke="#000" stroke-width="0.6"/>
<line x1="67.5" y1="664.5" x2="117.4" y2="664.5" stroke="#0000ff" stroke-width="1.15" />
<path d="M109.8,659.8 L117.4,664.5 L109.8,669.0" stroke="#0000ff" stroke-width="1.15" fill="none" />
<line x1="65.8" y1="691.0" x2="133.5" y2="691.0" stroke="#0000ff" stroke-width="1.15" />
<path d="M123.8,686.2 L133.5,691.0 L123.8,696.3" stroke="#0000ff" stroke-width="1.15" fill="none" />
<path d="M153.5,641.9 C155.0,642.5 159.4,645.5 162.5,645.8 C165.6,646.1 169.0,645.8 172.2,643.7 C175.4,641.6 179.9,635.0 181.5,633.3" stroke="#ff0000" stroke-width="1.15" fill="none" />
<path d="M174.4,636.1 L181.5,633.3 L181.9,641.5" stroke="#ff0000" stroke-width="1.15" fill="none" />
<line x1="231.6" y1="679.6" x2="236.8" y2="651.6" stroke="#ff0000" stroke-width="1.15" />
<path d="M229.0,658.7 L236.8,651.6 L240.7,659.4" stroke="#ff0000" stroke-width="1.15" fill="none" />
<path d="M281.0,715.8 C281.1,715.1 281.3,713.1 281.5,711.8 C281.7,710.5 281.9,709.2 282.2,707.9 C282.5,706.6 282.8,705.3 283.2,704.0 C283.6,702.8 284.0,701.5 284.5,700.3 C285.0,699.0 285.6,697.8 286.2,696.6 C286.8,695.4 287.4,694.3 288.1,693.1 C288.8,692.0 289.5,690.9 290.3,689.8 C291.1,688.7 292.0,687.7 292.8,686.7 C293.7,685.7 294.7,684.8 295.6,683.8 C296.5,682.9 297.5,682.0 298.5,681.0 C299.5,680.1 300.4,679.2 301.4,678.3 C302.4,677.4 303.4,676.5 304.4,675.6 C305.3,674.7 306.3,673.7 307.3,672.8 C308.3,671.9 309.2,671.0 310.2,670.1 C311.2,669.2 312.2,668.3 313.2,667.4 C314.2,666.6 315.2,665.7 316.3,664.9 C317.3,664.0 318.3,663.2 319.4,662.4 C320.5,661.6 321.6,660.8 322.7,660.0 C323.8,659.3 324.9,658.6 326.0,657.9 C327.2,657.1 328.3,656.4 329.4,655.8 C330.6,655.1 331.8,654.4 332.9,653.8 C334.1,653.1 335.2,652.5 336.4,651.8 C337.6,651.2 338.8,650.5 339.9,649.9 C341.1,649.2 342.3,648.6 343.5,648.0 C344.6,647.4 345.8,646.7 347.0,646.1 C348.2,645.5 349.4,644.9 350.6,644.3 C351.8,643.7 353.0,643.1 354.2,642.6 C355.4,642.0 356.6,641.4 357.9,640.9 C359.1,640.4 360.3,639.9 361.6,639.4 C362.8,639.0 364.1,638.5 365.3,638.1 C366.6,637.6 367.9,637.2 369.1,636.8 C370.4,636.5 371.7,636.1 373.0,635.7 C374.3,635.4 375.6,635.1 376.9,634.7 C378.2,634.4 379.5,634.1 380.8,633.9 C382.1,633.6 383.4,633.3 384.7,633.1 C386.0,632.9 387.4,632.7 388.7,632.5 C390.0,632.3 391.3,632.1 392.6,631.9 C394.0,631.7 395.3,631.5 396.6,631.4 C397.9,631.2 399.3,631.0 400.6,630.8 C401.9,630.6 403.2,630.4 404.6,630.2 C405.9,630.0 407.2,629.8 408.5,629.6 C409.8,629.4 411.2,629.2 412.5,629.0 C413.8,628.8 415.1,628.6 416.5,628.5 C417.8,628.3 419.1,628.1 420.4,627.9 C421.8,627.8 423.1,627.6 424.4,627.5 C425.7,627.4 427.1,627.3 428.4,627.2 C429.7,627.1 431.1,627.1 432.4,627.0 C433.7,627.0 435.1,627.0 436.4,627.0 C437.8,626.9 439.1,626.9 440.4,626.9 C441.8,626.9 443.1,626.8 444.4,626.8 C445.8,626.8 447.1,626.8 448.4,626.8 C449.8,626.8 451.1,626.7 452.5,626.7 C453.8,626.7 455.1,626.7 456.5,626.7 C457.8,626.7 459.1,626.6 460.5,626.6 C461.8,626.6 463.1,626.6 464.5,626.6 C465.8,626.6 467.2,626.6 468.5,626.6 C469.8,626.5 471.7,626.5 472.5,626.5 C473.3,626.5 473.3,626.5 473.5,626.5" stroke="#ff0000" stroke-width="1.15" fill="none" />
<path d="M462.9,622.0 L473.5,626.5 L463.5,631.9" stroke="#ff0000" stroke-width="1.15" fill="none" />
<path d="M345.9,715.8 C346.1,715.1 346.5,713.2 346.8,711.9 C347.1,710.6 347.4,709.3 347.8,708.0 C348.2,706.7 348.6,705.5 349.2,704.2 C349.7,703.0 350.3,701.8 350.9,700.7 C351.6,699.5 352.3,698.4 353.1,697.3 C353.9,696.3 354.8,695.3 355.7,694.3 C356.5,693.3 357.5,692.3 358.5,691.4 C359.4,690.5 360.4,689.6 361.4,688.7 C362.5,687.8 363.5,687.0 364.6,686.2 C365.6,685.4 366.7,684.6 367.8,683.8 C368.9,683.1 370.0,682.3 371.2,681.6 C372.3,680.9 373.5,680.3 374.6,679.6 C375.8,679.0 377.0,678.4 378.2,677.8 C379.4,677.2 380.6,676.7 381.9,676.1 C383.1,675.6 384.3,675.1 385.6,674.6 C386.8,674.1 388.1,673.6 389.3,673.1 C390.6,672.6 391.8,672.1 393.1,671.6 C394.3,671.1 395.5,670.6 396.8,670.2 C398.0,669.7 399.3,669.2 400.5,668.6 C401.8,668.1 403.0,667.6 404.2,667.1 C405.5,666.6 406.7,666.0 407.9,665.5 C409.1,665.0 410.4,664.5 411.6,664.0 C412.9,663.5 414.1,663.0 415.4,662.5 C416.6,662.1 417.9,661.6 419.2,661.2 C420.5,660.8 421.7,660.5 423.0,660.1 C424.3,659.8 425.6,659.4 426.9,659.1 C428.2,658.8 429.5,658.5 430.8,658.2 C432.1,657.9 433.4,657.6 434.8,657.3 C436.1,657.0 437.4,656.7 438.7,656.4 C440.0,656.1 441.3,655.9 442.6,655.6 C443.9,655.3 445.6,654.9 446.5,654.7 C447.5,654.5 448.2,654.4 448.5,654.3" stroke="#ff0000" stroke-width="1.15" fill="none" />
<path d="M435.9,653.9 L448.5,654.3 L439.9,661.9" stroke="#ff0000" stroke-width="1.15" fill="none" />
<path d="M198.3,612.4 C198.5,611.6 197.2,610.9 199.6,610.4 C202.0,609.9 208.7,609.5 212.6,609.1 C216.5,608.7 219.2,608.3 223.1,608.1 C227.0,607.9 232.6,607.6 236.1,608.1 C239.6,608.6 242.2,609.6 244.0,611.1 C245.8,612.6 247.0,614.5 247.2,617.0 C247.4,619.5 246.8,623.4 245.3,626.1 C243.8,628.8 238.5,631.7 238.1,633.3 C237.7,634.9 241.1,634.5 242.7,635.9 C244.3,637.3 246.7,639.1 247.9,641.8 C249.1,644.5 248.9,649.4 249.8,652.2 C250.7,655.0 252.0,656.5 253.1,658.7 C254.2,660.9 256.0,662.9 256.4,665.3 C256.8,667.7 256.7,670.7 255.7,673.1 C254.7,675.5 252.2,678.0 250.5,679.6 C248.8,681.2 248.4,682.2 245.3,682.9 C242.2,683.6 236.5,683.3 232.2,683.6 C227.8,683.9 222.5,684.7 219.2,684.9 C215.9,685.1 215.6,685.1 212.6,684.9 C209.6,684.7 203.6,684.5 200.9,683.6 C198.2,682.7 197.2,681.0 196.3,679.6 C195.4,678.2 195.4,676.3 195.7,675.1 C196.0,673.9 199.2,675.0 198.3,672.5 C197.4,670.0 190.8,662.4 190.4,660.0 C190.0,657.6 194.6,659.4 195.7,658.1 C196.8,656.8 197.1,653.7 197.0,652.2 C196.9,650.7 194.9,650.0 195.0,649.0 C195.1,648.0 197.7,647.3 197.6,646.3 C197.5,645.3 195.1,645.0 194.4,643.1 C193.8,641.2 194.7,637.5 193.7,635.2 C192.7,632.9 189.6,631.4 188.5,629.4 C187.4,627.4 187.0,625.5 187.2,623.5 C187.4,621.5 188.6,618.9 189.8,617.6 C191.0,616.3 193.0,616.1 194.4,615.7 C195.8,615.3 197.7,615.5 198.3,615.0 C199.0,614.5 198.1,613.2 198.3,612.4Z" stroke="#000" stroke-width="1.9" fill="none" stroke-linejoin="round"/>
<path d="M261.1,618.7 C262.1,618.2 262.9,617.6 263.8,617.7 C264.7,617.8 265.5,619.2 266.6,619.1 C267.8,619.0 269.2,618.0 270.7,617.0 C272.2,616.0 273.9,614.1 275.6,613.2 C277.3,612.3 279.2,611.8 281.1,611.8 C283.1,611.8 286.0,612.6 287.3,613.2 C288.6,613.8 288.9,614.5 288.7,615.6 C288.5,616.7 287.4,618.3 285.9,619.7 C284.4,621.1 282.0,622.8 279.7,623.9 C277.4,625.0 274.8,625.8 272.1,626.3 C269.5,626.8 265.9,627.0 263.8,627.0 C261.7,627.0 260.8,627.0 259.7,626.3 C258.6,625.6 257.6,623.9 257.3,622.9 C257.0,621.9 257.3,621.1 257.9,620.4 C258.5,619.7 260.1,619.2 261.1,618.7Z" stroke="#000" stroke-width="1.8" fill="none" />
<path d="M267.6,634.3 C268.1,633.8 269.0,632.1 270.7,631.5 C272.4,630.9 275.5,630.6 277.6,630.5 C279.7,630.4 282.1,630.2 283.2,630.8 C284.2,631.4 284.1,632.9 283.9,634.3 C283.7,635.7 282.9,637.7 281.8,639.1 C280.8,640.5 279.3,641.9 277.6,642.6 C275.9,643.3 273.2,643.4 271.4,643.2 C269.6,643.0 267.4,642.0 266.6,641.2 C265.9,640.4 266.3,639.3 266.9,638.4 C267.5,637.5 269.5,636.1 270.0,635.6" stroke="#000" stroke-width="1.8" fill="none" />
<line x1="201.4" y1="684.0" x2="201.4" y2="704.4" stroke="#000" stroke-width="1.6" />
<line x1="208.5" y1="685.0" x2="208.5" y2="709.4" stroke="#000" stroke-width="1.6" />
<line x1="221.9" y1="685.0" x2="221.9" y2="705.4" stroke="#000" stroke-width="1.6" />
<line x1="232.8" y1="684.5" x2="232.8" y2="700.3" stroke="#000" stroke-width="1.6" />
<line x1="241.9" y1="684.0" x2="241.9" y2="709.6" stroke="#000" stroke-width="1.6" />
<line x1="251.5" y1="681.0" x2="251.5" y2="706.1" stroke="#000" stroke-width="1.6" />
<line x1="398.4" y1="717.6" x2="569.7" y2="653.0" stroke="#000" stroke-width="3.3" />
<line x1="413.0" y1="712.1" x2="413.0" y2="718.0" stroke="#444" stroke-width="1.1" />
<line x1="416.9" y1="710.6" x2="416.9" y2="718.0" stroke="#444" stroke-width="1.1" />
<line x1="420.6" y1="709.2" x2="420.6" y2="718.0" stroke="#444" stroke-width="1.1" />
<line x1="425.5" y1="707.4" x2="425.5" y2="718.0" stroke="#444" stroke-width="1.1" />
<line x1="429.2" y1="706.0" x2="429.2" y2="718.0" stroke="#444" stroke-width="1.1" />
<line x1="432.8" y1="704.6" x2="432.8" y2="718.0" stroke="#444" stroke-width="1.1" />
<line x1="439.0" y1="702.3" x2="439.0" y2="718.0" stroke="#444" stroke-width="1.1" />
<line x1="446.4" y1="699.5" x2="446.4" y2="718.0" stroke="#444" stroke-width="1.1" />
<line x1="453.7" y1="696.7" x2="453.7" y2="718.0" stroke="#444" stroke-width="1.1" />
<line x1="459.9" y1="694.4" x2="459.9" y2="717.0" stroke="#444" stroke-width="1.1" />
<line x1="464.8" y1="692.6" x2="464.8" y2="718.0" stroke="#444" stroke-width="1.1" />
<line x1="472.5" y1="689.7" x2="472.5" y2="710.4" stroke="#444" stroke-width="1.1" />
<line x1="481.0" y1="686.5" x2="481.0" y2="701.1" stroke="#444" stroke-width="1.1" />
<line x1="487.7" y1="683.9" x2="487.7" y2="711.2" stroke="#444" stroke-width="1.1" />
<line x1="496.2" y1="680.7" x2="496.2" y2="699.4" stroke="#444" stroke-width="1.1" />
<line x1="507.2" y1="676.6" x2="507.2" y2="694.4" stroke="#444" stroke-width="1.1" />
<line x1="515.3" y1="673.5" x2="515.3" y2="685.1" stroke="#444" stroke-width="1.1" />
<path d="M399.4,708.6 L395.9,707.6 L391.7,704.1 L390.7,702.6 L399.9,699.5 L390.7,699.5 L394.5,695.7 L403.0,692.6 L392.2,693.4 L393.0,690.0 L410.6,689.6 L399.9,686.5 L389.9,683.4 L406.0,681.9 L429.1,681.1 L444.4,677.3 L461.3,675.0 L458.3,671.9 L462.9,670.4 L475.2,668.8 L483.0,668.1 L490.3,668.2 L495.3,669.8 L492.0,666.5 L502.1,665.6 L510.6,661.4 L520.7,658.9 L527.5,659.7 L529.1,663.1" stroke="#000" stroke-width="1.9" fill="none" stroke-linejoin="round" stroke-linecap="round"/>
<path d="M387.6,718.0 L387.6,710.4 L407.6,711.1 L412.0,712.5" stroke="#000" stroke-width="2" fill="none" />
<line x1="392.8" y1="710.6" x2="392.8" y2="718.0" stroke="#000" stroke-width="1.6" />
<line x1="398.7" y1="710.6" x2="398.7" y2="718.0" stroke="#000" stroke-width="1.6" />
<line x1="535.1" y1="647.9" x2="554.5" y2="645.3" stroke="#000" stroke-width="1.7" />
<line x1="541.0" y1="643.7" x2="557.9" y2="641.1" stroke="#000" stroke-width="1.7" />
<line x1="549.4" y1="636.9" x2="558.7" y2="636.1" stroke="#000" stroke-width="1.7" />
<text x="25.9" y="728.3" font-size="28" font-weight="bold" text-anchor="start">C</text>
<text x="579.1" y="727.6" font-size="28" font-weight="bold" text-anchor="start">D</text>
<text x="409" y="698.4" font-size="21" text-anchor="start">Ns</text>
<text x="460.3" y="686.8000000000001" font-size="21" text-anchor="start">As</text>
<text x="508" y="659.3000000000001" font-size="21" text-anchor="start">Cs</text>
<text x="556.9" y="644.9" font-size="21" text-anchor="start">Ci</text>
</svg>
</body></html>
